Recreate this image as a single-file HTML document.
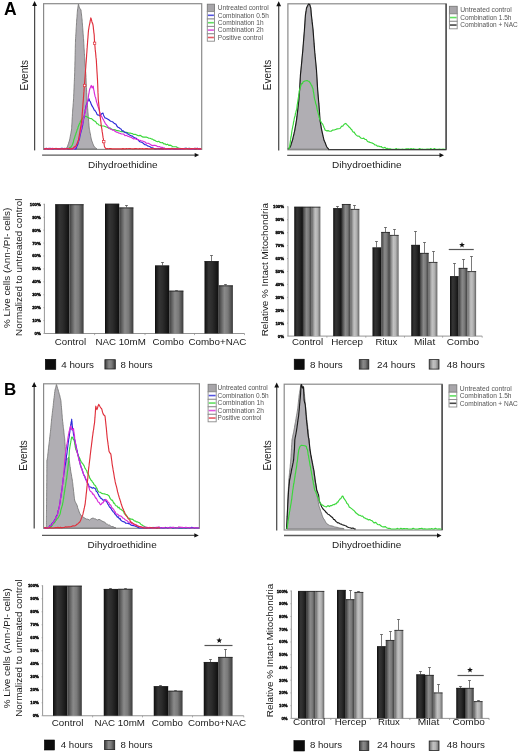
<!DOCTYPE html>
<html><head><meta charset="utf-8"><title>Figure</title>
<style>html,body{margin:0;padding:0;background:#fff;} svg{display:block;filter:blur(0.3px);} text{font-family:"Liberation Sans", sans-serif;}</style>
</head><body>
<svg width="520" height="753" viewBox="0 0 520 753">
<rect width="520" height="753" fill="#fff"/>
<defs>
<linearGradient id="gd" x1="0" x2="1" y1="0" y2="0">
<stop offset="0" stop-color="#0c0c0c"/><stop offset="0.12" stop-color="#1e1e1e"/><stop offset="0.3" stop-color="#353535"/>
<stop offset="0.55" stop-color="#2c2c2c"/><stop offset="0.8" stop-color="#1c1c1c"/><stop offset="1" stop-color="#0e0e0e"/></linearGradient>
<linearGradient id="gm" x1="0" x2="1" y1="0" y2="0">
<stop offset="0" stop-color="#3a3a3a"/><stop offset="0.15" stop-color="#5a5a5a"/><stop offset="0.4" stop-color="#8a8a8a"/>
<stop offset="0.65" stop-color="#7a7a7a"/><stop offset="0.88" stop-color="#505050"/><stop offset="1" stop-color="#3a3a3a"/></linearGradient>
<linearGradient id="gl" x1="0" x2="1" y1="0" y2="0">
<stop offset="0" stop-color="#606060"/><stop offset="0.15" stop-color="#8a8a8a"/><stop offset="0.4" stop-color="#c2c2c2"/>
<stop offset="0.65" stop-color="#b4b4b4"/><stop offset="0.88" stop-color="#858585"/><stop offset="1" stop-color="#5a5a5a"/></linearGradient>
</defs>
<text x="4.00" y="14.70" font-size="17.5" text-anchor="start" font-weight="bold" fill="#000">A</text>
<text x="4.00" y="394.80" font-size="17.0" text-anchor="start" font-weight="bold" fill="#000">B</text>
<line x1="34.60" y1="150.40" x2="34.60" y2="5.50" stroke="#4a4a4a" stroke-width="1.25"/>
<polygon points="32.20,6.00 37.00,6.00 34.60,1.00" fill="#111" stroke="none" stroke-width="1" stroke-linejoin="round" opacity="1"/>
<rect x="43.60" y="3.70" width="158.10" height="145.70" fill="none" stroke="#8a8a8a" stroke-width="1.2" />
<line x1="42.10" y1="155.10" x2="195.20" y2="155.10" stroke="#5a5a5a" stroke-width="1.3"/>
<polygon points="194.70,152.90 194.70,157.30 199.20,155.10" fill="#111" stroke="none" stroke-width="1" stroke-linejoin="round" opacity="1"/>
<text x="27.70" y="75.30" font-size="10" text-anchor="middle" font-weight="normal" fill="#222" transform="rotate(-90 27.70 75.30)" textLength="30.4" lengthAdjust="spacingAndGlyphs">Events</text>
<text x="122.85" y="167.60" font-size="9.6" text-anchor="middle" font-weight="normal" fill="#222" textLength="69.69999999999999" lengthAdjust="spacingAndGlyphs">Dihydroethidine</text>
<polygon points="66.30,148.90 67.00,147.34 67.70,146.00 68.08,144.59 68.46,143.69 68.84,142.14 69.22,141.22 69.60,140.00 69.84,138.67 70.07,137.23 70.31,136.25 70.55,134.72 70.79,133.71 71.03,132.24 71.26,131.00 71.50,130.00 71.58,128.70 71.65,127.70 71.72,126.02 71.80,124.83 71.88,123.83 71.95,122.77 72.03,121.30 72.10,119.94 72.17,119.04 72.25,117.23 72.33,116.47 72.40,114.87 72.48,113.54 72.55,112.27 72.62,111.14 72.70,110.00 72.80,108.94 72.90,107.31 73.00,106.30 73.10,105.08 73.20,103.67 73.30,102.53 73.40,100.99 73.50,100.00 73.56,98.49 73.61,97.32 73.66,96.36 73.72,94.96 73.78,93.64 73.83,92.55 73.88,91.22 73.94,89.88 74.00,88.93 74.05,87.62 74.10,86.10 74.16,85.04 74.22,83.77 74.27,82.73 74.32,81.39 74.38,79.87 74.44,79.04 74.49,77.27 74.54,76.20 74.60,75.00 74.63,73.95 74.66,72.38 74.69,71.37 74.72,69.90 74.76,69.07 74.79,67.92 74.82,66.60 74.85,65.57 74.88,64.03 74.91,63.05 74.94,61.78 74.97,60.57 75.00,59.28 75.03,58.31 75.07,57.16 75.10,55.67 75.13,54.58 75.16,53.01 75.19,52.19 75.22,50.95 75.25,49.95 75.28,48.64 75.31,47.11 75.34,45.97 75.38,44.93 75.41,43.33 75.44,42.39 75.47,41.01 75.50,40.00 75.58,38.52 75.65,37.24 75.72,36.41 75.80,34.78 75.88,33.60 75.95,32.43 76.03,31.47 76.10,29.75 76.17,28.72 76.25,27.53 76.33,26.48 76.40,25.19 76.48,23.97 76.55,22.37 76.62,21.20 76.70,20.00 76.80,18.67 76.90,17.73 77.00,16.52 77.10,14.79 77.20,13.56 77.30,12.34 77.40,11.09 77.50,10.00 77.72,8.54 77.95,7.15 78.18,5.51 78.40,4.20 78.77,5.17 79.13,6.68 79.50,8.00 80.25,8.92 81.00,10.00 81.14,11.29 81.28,12.77 81.41,13.86 81.55,15.01 81.69,16.32 81.82,17.61 81.96,18.48 82.10,20.00 82.19,21.49 82.29,22.67 82.38,23.97 82.47,25.18 82.57,26.19 82.66,27.44 82.76,28.51 82.85,30.08 82.94,30.99 83.04,32.24 83.13,33.58 83.22,34.80 83.32,36.15 83.41,37.23 83.51,38.45 83.60,40.00 83.67,41.04 83.75,42.26 83.82,43.67 83.90,44.72 83.97,46.47 84.05,47.57 84.12,48.54 84.20,49.85 84.27,51.16 84.35,52.42 84.42,53.52 84.50,55.21 84.58,56.55 84.65,57.48 84.72,58.74 84.80,60.00 84.89,61.00 84.98,62.26 85.08,63.66 85.17,64.86 85.26,66.45 85.35,67.30 85.44,68.46 85.53,70.27 85.62,71.27 85.72,72.29 85.81,73.78 85.90,75.00 85.96,75.97 86.01,77.52 86.06,79.04 86.12,80.22 86.18,81.37 86.23,82.36 86.28,83.67 86.34,84.80 86.40,86.41 86.45,87.52 86.50,88.92 86.56,89.90 86.62,91.08 86.67,92.69 86.72,94.04 86.78,95.21 86.84,96.43 86.89,97.69 86.94,98.89 87.00,100.00 87.10,101.09 87.20,102.51 87.30,103.66 87.40,104.72 87.50,105.97 87.60,107.37 87.70,108.61 87.80,110.12 87.90,111.52 88.00,112.47 88.10,114.01 88.20,115.00 88.30,116.59 88.40,117.87 88.50,118.82 88.60,120.03 88.70,121.34 88.80,122.62 88.90,123.92 89.00,125.47 89.10,126.94 89.20,128.00 89.43,129.40 89.66,130.39 89.89,131.69 90.12,132.98 90.35,133.75 90.58,135.30 90.81,136.65 91.04,137.77 91.27,138.95 91.50,140.00 91.96,141.19 92.42,142.21 92.88,143.77 93.34,144.70 93.80,146.00 94.83,147.15 95.87,148.22 96.90,148.90" fill="#b0aeb3" stroke="#707070" stroke-width="0.8" stroke-linejoin="round" opacity="1"/>
<polyline points="44.00,148.90 45.20,148.78 46.40,148.78 47.60,148.90 48.80,148.90 50.00,148.50 51.20,148.45 52.40,148.48 53.60,148.90 54.80,148.90 56.00,148.48 57.20,148.90 58.40,148.90 59.60,148.90 60.80,148.72 62.00,148.90 63.20,148.46 64.40,148.32 65.60,148.90 66.80,148.90 68.00,148.90 69.00,148.23 70.00,147.50 71.15,146.77 72.30,145.00 72.67,143.75 73.03,143.11 73.40,141.89 73.77,139.99 74.13,138.87 74.50,138.00 74.90,136.55 75.30,135.29 75.70,134.50 76.10,132.91 76.50,132.00 76.90,130.70 77.30,129.16 77.70,128.89 78.10,127.02 78.50,126.00 79.00,124.70 79.50,123.60 80.00,122.74 80.50,121.00 81.33,119.74 82.17,119.17 83.00,117.50 84.40,116.85 85.80,116.20 87.20,117.00 88.60,117.76 90.00,118.50 91.55,118.67 93.10,120.00 94.05,120.76 95.00,121.29 95.95,121.90 96.90,123.69 97.85,123.77 98.80,125.00 100.04,125.27 101.28,125.87 102.52,125.97 103.76,125.99 105.00,126.50 106.28,127.02 107.57,127.57 108.85,128.34 110.13,128.03 111.42,129.07 112.70,129.50 113.93,129.45 115.16,129.73 116.39,130.58 117.62,130.51 118.85,130.82 120.08,131.31 121.31,131.74 122.54,131.43 123.77,131.89 125.00,132.00 126.25,132.28 127.50,132.56 128.75,133.06 130.00,133.04 131.25,133.41 132.50,133.62 133.75,134.45 135.00,134.20 136.25,134.80 137.50,135.38 138.75,135.82 140.00,135.36 141.25,136.08 142.50,136.91 143.75,137.15 145.00,137.10 146.25,137.08 147.50,137.47 148.75,138.27 150.00,138.24 151.25,138.85 152.50,139.06 153.75,140.19 155.00,140.40 156.25,141.17 157.50,141.73 158.75,141.26 160.00,142.36 161.25,142.72 162.50,142.52 163.75,143.83 165.00,143.80 166.25,144.72 167.50,144.19 168.75,145.43 170.00,145.13 171.25,145.60 172.50,146.56 173.75,146.74 175.00,146.70 176.20,146.73 177.40,147.50 178.60,148.04 179.80,148.27 181.00,148.90 182.25,148.53 183.50,148.68 184.75,148.90 186.00,148.32 187.25,148.90 188.50,148.83 189.75,148.32 191.00,148.70 192.25,148.90 193.50,148.90 194.75,148.38 196.00,148.90 197.25,148.90 198.50,148.90 199.75,148.43 201.00,148.90" fill="none" stroke="#3ad83a" stroke-width="1.15" stroke-linejoin="round" opacity="1"/>
<polyline points="44.00,148.90 45.23,148.57 46.46,148.26 47.69,148.90 48.92,148.58 50.15,148.38 51.38,148.79 52.62,148.90 53.85,148.90 55.08,148.56 56.31,148.41 57.54,148.90 58.77,148.90 60.00,148.90 61.23,148.33 62.46,148.28 63.69,148.90 64.92,148.80 66.15,148.30 67.38,148.90 68.62,148.90 69.85,148.90 71.08,148.32 72.31,148.90 73.54,148.29 74.77,148.90 76.00,148.90 76.46,147.56 76.91,146.13 77.37,145.16 77.83,144.41 78.29,142.22 78.74,140.75 79.20,140.00 79.49,138.79 79.78,137.13 80.08,135.70 80.37,134.53 80.66,133.12 80.95,132.08 81.24,130.99 81.53,129.73 81.83,129.11 82.12,127.21 82.41,126.25 82.70,125.00 82.91,123.30 83.12,122.29 83.34,120.58 83.55,119.65 83.76,118.07 83.98,117.83 84.19,116.32 84.40,115.00 84.62,113.32 84.85,112.46 85.08,111.86 85.30,109.45 85.53,109.20 85.75,107.41 85.98,106.24 86.20,105.00 86.76,104.21 87.32,102.33 87.88,101.23 88.44,100.22 89.00,98.70 89.60,100.81 90.20,101.35 90.80,103.00 91.37,104.63 91.93,105.62 92.50,106.69 93.07,107.53 93.63,108.62 94.20,110.00 94.90,110.38 95.60,111.48 96.30,112.40 97.00,114.34 97.70,115.00 98.85,115.16 100.00,116.00 100.97,114.53 101.93,113.42 102.90,113.00 103.43,114.70 103.95,115.97 104.47,116.91 105.00,117.90 106.25,118.32 107.50,118.99 108.75,119.79 110.00,120.80 111.25,121.47 112.50,121.77 113.75,122.90 115.00,123.70 116.00,124.33 117.00,126.27 118.00,127.24 119.00,127.61 120.00,128.50 121.00,128.98 122.00,130.83 123.00,130.75 124.00,131.66 125.00,132.70 126.25,132.63 127.50,133.78 128.75,134.54 130.00,135.20 131.25,135.90 132.50,136.18 133.75,137.31 135.00,138.00 136.00,138.09 137.00,139.23 138.00,139.77 139.00,140.98 140.00,141.90 141.25,141.98 142.50,142.68 143.75,143.80 145.00,144.80 146.25,144.90 147.50,145.87 148.75,146.27 150.00,146.70 151.20,147.49 152.40,147.80 153.60,148.32 154.80,148.90 156.00,148.90 157.22,148.75 158.43,148.66 159.65,148.90 160.86,148.41 162.08,148.90 163.30,148.90 164.51,148.26 165.73,148.90 166.95,148.90 168.16,148.90 169.38,148.90 170.59,148.90 171.81,148.40 173.03,148.90 174.24,148.90 175.46,148.90 176.68,148.90 177.89,148.90 179.11,148.90 180.32,148.90 181.54,148.90 182.76,148.90 183.97,148.52 185.19,148.24 186.41,148.39 187.62,148.70 188.84,148.35 190.05,148.90 191.27,148.90 192.49,148.90 193.70,148.90 194.92,148.90 196.14,148.89 197.35,148.20 198.57,148.90 199.78,148.90 201.00,148.90" fill="none" stroke="#2a2ad8" stroke-width="1.15" stroke-linejoin="round" opacity="1"/>
<polyline points="44.00,148.90 45.20,148.90 46.40,148.90 47.60,148.90 48.80,148.38 50.00,148.90 51.20,148.60 52.40,148.39 53.60,148.62 54.80,148.90 56.00,148.55 57.20,148.90 58.40,148.90 59.60,148.89 60.80,148.76 62.00,148.87 63.20,148.90 64.40,148.90 65.60,148.90 66.80,148.90 68.00,148.39 69.20,148.48 70.40,148.60 71.60,148.90 72.80,148.67 74.00,148.90 74.90,148.03 75.80,147.00 76.28,145.25 76.77,144.14 77.25,143.22 77.73,142.54 78.22,141.40 78.70,140.00 78.98,138.96 79.27,137.25 79.55,136.27 79.83,134.96 80.12,133.71 80.40,132.04 80.68,131.72 80.97,129.64 81.25,129.32 81.53,128.02 81.82,125.67 82.10,125.00 82.39,123.70 82.68,122.88 82.97,121.81 83.27,119.94 83.56,118.47 83.85,117.15 84.14,116.78 84.43,114.65 84.72,113.85 85.02,112.07 85.31,111.28 85.60,110.00 85.89,109.29 86.17,107.06 86.46,106.63 86.75,105.01 87.04,104.21 87.33,102.74 87.61,100.93 87.90,100.00 88.10,99.23 88.30,97.48 88.50,95.68 88.70,94.40 88.90,93.74 89.10,92.44 89.30,91.01 89.50,90.00 89.95,88.42 90.40,87.51 90.85,86.33 91.30,85.40 91.75,87.11 92.20,88.00 93.10,86.00 93.34,86.69 93.59,88.87 93.83,90.26 94.07,90.69 94.31,92.94 94.56,93.97 94.80,95.00 95.14,96.73 95.47,97.25 95.81,98.60 96.15,99.87 96.49,101.85 96.83,102.61 97.16,103.58 97.50,105.00 97.89,106.16 98.28,107.23 98.66,108.21 99.05,109.52 99.44,111.65 99.82,112.24 100.21,114.27 100.60,115.00 101.27,115.87 101.93,117.05 102.60,118.51 103.27,119.29 103.93,120.68 104.60,122.00 105.37,123.55 106.13,124.46 106.90,125.37 107.67,126.16 108.43,127.50 109.20,128.00 110.36,129.19 111.52,129.38 112.68,130.24 113.84,130.10 115.00,131.30 116.25,132.08 117.50,132.24 118.75,133.10 120.00,133.30 121.25,133.95 122.50,133.99 123.75,134.18 125.00,135.71 126.25,135.23 127.50,136.12 128.75,136.44 130.00,137.10 131.25,137.27 132.50,138.21 133.75,138.91 135.00,138.46 136.25,139.35 137.50,139.34 138.75,140.06 140.00,140.40 141.25,140.75 142.50,140.95 143.75,141.42 145.00,141.95 146.25,143.26 147.50,143.25 148.75,143.39 150.00,144.20 151.33,145.10 152.67,145.63 154.00,145.39 155.33,145.43 156.67,145.91 158.00,146.70 159.33,146.58 160.67,147.24 162.00,147.31 163.33,147.85 164.67,148.24 166.00,148.90 167.21,148.90 168.41,148.90 169.62,148.90 170.83,148.80 172.03,148.80 173.24,148.90 174.45,148.75 175.66,148.71 176.86,148.37 178.07,148.63 179.28,148.90 180.48,148.45 181.69,148.90 182.90,148.90 184.10,148.90 185.31,148.56 186.52,148.63 187.72,148.60 188.93,148.78 190.14,148.84 191.34,148.90 192.55,148.90 193.76,148.90 194.97,148.33 196.17,148.34 197.38,148.90 198.59,148.90 199.79,148.87 201.00,148.90" fill="none" stroke="#d82ad8" stroke-width="1.15" stroke-linejoin="round" opacity="1"/>
<polyline points="44.00,148.90 45.22,148.90 46.43,148.50 47.65,148.81 48.87,148.90 50.09,148.90 51.30,148.90 52.52,148.90 53.74,148.70 54.96,148.59 56.17,148.62 57.39,148.90 58.61,148.90 59.83,148.90 61.04,148.90 62.26,148.90 63.48,148.90 64.70,148.87 65.91,148.90 67.13,148.53 68.35,148.90 69.57,148.69 70.78,148.90 72.00,148.90 73.00,148.29 74.00,147.29 75.00,146.43 76.00,146.00 76.50,144.60 77.00,143.71 77.50,142.56 78.00,140.89 78.50,140.00 78.71,138.41 78.92,137.52 79.14,136.32 79.35,134.91 79.56,133.53 79.78,132.58 79.99,130.86 80.20,130.00 80.40,128.59 80.60,127.47 80.80,126.62 81.00,125.12 81.20,124.06 81.40,122.48 81.60,121.04 81.80,120.00 81.89,118.55 81.99,117.87 82.08,116.41 82.17,114.85 82.27,113.37 82.36,112.50 82.46,111.39 82.55,109.94 82.64,108.56 82.74,107.63 82.83,106.59 82.92,104.78 83.02,103.38 83.11,102.37 83.21,101.19 83.30,100.00 83.39,98.90 83.48,97.26 83.58,96.49 83.67,95.19 83.76,93.75 83.85,92.26 83.94,91.63 84.03,89.85 84.12,89.01 84.22,87.28 84.31,86.03 84.40,85.00 84.50,83.96 84.60,82.34 84.70,81.61 84.80,80.00 84.90,78.50 85.00,77.28 85.10,76.18 85.20,75.00 85.29,73.88 85.38,72.86 85.47,70.97 85.56,69.91 85.65,68.52 85.74,67.88 85.83,65.96 85.92,64.64 86.01,63.40 86.10,62.41 86.19,61.57 86.28,60.31 86.37,58.94 86.46,57.90 86.55,56.60 86.64,54.86 86.73,53.50 86.82,52.85 86.91,51.45 87.00,50.00 87.09,48.38 87.19,47.63 87.28,46.15 87.38,44.90 87.47,43.62 87.56,42.24 87.66,40.85 87.75,39.82 87.84,38.63 87.94,37.86 88.03,35.95 88.12,35.37 88.22,33.52 88.31,32.39 88.41,31.51 88.50,30.00 88.73,29.05 88.96,27.53 89.19,26.01 89.42,25.14 89.65,23.85 89.88,23.08 90.11,21.28 90.34,20.21 90.57,19.43 90.80,17.90 91.17,18.71 91.53,20.20 91.90,21.70 92.27,22.85 92.63,23.45 93.00,25.00 93.15,25.88 93.30,27.15 93.45,29.09 93.60,29.81 93.75,31.45 93.90,32.82 94.05,33.62 94.20,35.00 94.27,36.15 94.33,38.03 94.40,39.09 94.47,40.14 94.53,41.84 94.60,43.00 94.72,44.07 94.84,45.25 94.96,46.25 95.09,48.06 95.21,49.40 95.33,50.39 95.45,51.85 95.57,52.33 95.69,53.72 95.81,55.12 95.94,56.72 96.06,57.93 96.18,58.69 96.30,60.00 96.38,61.05 96.45,62.44 96.52,63.74 96.60,65.34 96.67,66.00 96.75,67.74 96.83,68.94 96.90,70.26 96.97,71.47 97.05,72.59 97.12,73.61 97.20,74.86 97.28,76.14 97.35,77.73 97.42,78.41 97.50,80.00 97.55,81.01 97.60,82.70 97.65,83.55 97.70,84.65 97.75,85.88 97.80,87.54 97.85,88.61 97.90,90.38 97.95,91.56 98.00,92.89 98.05,93.56 98.10,94.67 98.15,95.93 98.20,97.50 98.25,98.92 98.30,100.00 98.44,101.21 98.58,102.29 98.71,103.68 98.85,105.10 98.99,106.39 99.12,107.70 99.26,109.03 99.40,110.00 99.55,111.38 99.70,112.20 99.85,114.02 100.00,114.84 100.15,116.30 100.30,117.40 100.45,118.94 100.60,119.76 100.75,121.05 100.90,122.30 101.05,123.47 101.20,125.00 101.39,126.56 101.58,127.56 101.78,128.61 101.97,129.92 102.16,131.64 102.35,132.51 102.54,133.54 102.73,135.25 102.92,136.37 103.12,137.89 103.31,138.43 103.50,140.00 103.72,141.38 103.94,143.06 104.16,144.47 104.38,145.93 104.60,147.00 106.00,148.90 107.21,148.53 108.42,148.73 109.63,148.60 110.84,148.65 112.04,148.90 113.25,148.90 114.46,148.90 115.67,148.80 116.88,148.90 118.09,148.86 119.30,148.71 120.51,148.90 121.72,148.90 122.92,148.58 124.13,148.90 125.34,148.90 126.55,148.67 127.76,148.79 128.97,148.61 130.18,148.66 131.39,148.70 132.59,148.90 133.80,148.90 135.01,148.66 136.22,148.51 137.43,148.76 138.64,148.90 139.85,148.65 141.06,148.75 142.27,148.66 143.47,148.90 144.68,148.90 145.89,148.55 147.10,148.58 148.31,148.82 149.52,148.90 150.73,148.90 151.94,148.57 153.15,148.63 154.35,148.90 155.56,148.83 156.77,148.73 157.98,148.75 159.19,148.90 160.40,148.75 161.61,148.90 162.82,148.79 164.03,148.83 165.23,148.90 166.44,148.90 167.65,148.79 168.86,148.66 170.07,148.90 171.28,148.66 172.49,148.50 173.70,148.90 174.91,148.84 176.11,148.90 177.32,148.82 178.53,148.90 179.74,148.87 180.95,148.63 182.16,148.51 183.37,148.90 184.58,148.90 185.78,148.90 186.99,148.57 188.20,148.90 189.41,148.80 190.62,148.90 191.83,148.62 193.04,148.73 194.25,148.90 195.46,148.90 196.66,148.59 197.87,148.89 199.08,148.90 200.29,148.90 201.50,148.90" fill="none" stroke="#e0303c" stroke-width="1.15" stroke-linejoin="round" opacity="1"/>
<rect x="93.40" y="42.10" width="2.40" height="2.40" fill="#fff" stroke="#e0303c" stroke-width="0.7" />
<rect x="83.40" y="84.30" width="2.40" height="2.40" fill="#fff" stroke="#e0303c" stroke-width="0.7" />
<rect x="102.60" y="140.40" width="2.40" height="2.40" fill="#fff" stroke="#e0303c" stroke-width="0.7" />
<rect x="207.30" y="4.20" width="7.20" height="7.40" fill="#a8a6aa" stroke="#7a7a7a" stroke-width="0.9" />
<text x="217.80" y="10.28" font-size="6.6" text-anchor="start" font-weight="normal" fill="#555555" textLength="50.9" lengthAdjust="spacingAndGlyphs">Untreated control</text>
<rect x="207.30" y="11.60" width="7.20" height="7.40" fill="#fff" stroke="#8a8a8a" stroke-width="0.9" />
<line x1="207.90" y1="15.30" x2="213.90" y2="15.30" stroke="#2a2ad8" stroke-width="1.6" opacity="0.8"/>
<text x="217.80" y="17.68" font-size="6.6" text-anchor="start" font-weight="normal" fill="#555555" textLength="51.0" lengthAdjust="spacingAndGlyphs">Combination 0.5h</text>
<rect x="207.30" y="19.00" width="7.20" height="7.40" fill="#fff" stroke="#8a8a8a" stroke-width="0.9" />
<line x1="207.90" y1="22.70" x2="213.90" y2="22.70" stroke="#3ad83a" stroke-width="1.6" opacity="0.8"/>
<text x="217.80" y="25.08" font-size="6.6" text-anchor="start" font-weight="normal" fill="#555555" textLength="45.8" lengthAdjust="spacingAndGlyphs">Combination 1h</text>
<rect x="207.30" y="26.40" width="7.20" height="7.40" fill="#fff" stroke="#8a8a8a" stroke-width="0.9" />
<line x1="207.90" y1="30.10" x2="213.90" y2="30.10" stroke="#d82ad8" stroke-width="1.6" opacity="0.8"/>
<text x="217.80" y="32.48" font-size="6.6" text-anchor="start" font-weight="normal" fill="#555555" textLength="45.8" lengthAdjust="spacingAndGlyphs">Combination 2h</text>
<rect x="207.30" y="33.80" width="7.20" height="7.40" fill="#fff" stroke="#8a8a8a" stroke-width="0.9" />
<line x1="207.90" y1="37.50" x2="213.90" y2="37.50" stroke="#e0303c" stroke-width="1.6" opacity="0.8"/>
<text x="217.80" y="39.88" font-size="6.6" text-anchor="start" font-weight="normal" fill="#555555" textLength="45.2" lengthAdjust="spacingAndGlyphs">Positive control</text>
<line x1="278.70" y1="150.40" x2="278.70" y2="5.70" stroke="#4a4a4a" stroke-width="1.25"/>
<polygon points="276.30,6.20 281.10,6.20 278.70,1.20" fill="#111" stroke="none" stroke-width="1" stroke-linejoin="round" opacity="1"/>
<rect x="287.90" y="3.80" width="158.20" height="146.00" fill="none" stroke="#8a8a8a" stroke-width="1.2" />
<line x1="446.10" y1="3.80" x2="446.10" y2="149.80" stroke="#333" stroke-width="1.2"/>
<line x1="287.20" y1="155.30" x2="440.00" y2="155.30" stroke="#5a5a5a" stroke-width="1.3"/>
<polygon points="439.50,153.10 439.50,157.50 444.00,155.30" fill="#111" stroke="none" stroke-width="1" stroke-linejoin="round" opacity="1"/>
<text x="271.30" y="75.00" font-size="10" text-anchor="middle" font-weight="normal" fill="#222" transform="rotate(-90 271.30 75.00)" textLength="30.4" lengthAdjust="spacingAndGlyphs">Events</text>
<text x="366.90" y="167.60" font-size="9.6" text-anchor="middle" font-weight="normal" fill="#222" textLength="69.59999999999997" lengthAdjust="spacingAndGlyphs">Dihydroethidine</text>
<polygon points="288.00,149.20 289.20,147.95 290.40,147.00 290.78,145.65 291.17,144.89 291.55,143.74 291.93,142.32 292.32,140.94 292.70,140.00 292.99,138.96 293.27,137.44 293.56,136.45 293.85,135.06 294.14,133.91 294.43,132.33 294.71,131.39 295.00,130.00 295.21,128.61 295.43,127.45 295.64,126.42 295.85,125.16 296.06,123.59 296.27,122.36 296.49,121.20 296.70,120.00 296.85,118.76 297.00,117.44 297.15,116.06 297.30,114.87 297.45,113.86 297.60,112.70 297.75,111.02 297.90,110.00 298.04,108.78 298.17,107.63 298.31,106.02 298.45,105.17 298.59,103.56 298.73,102.55 298.86,101.28 299.00,100.00 299.10,98.81 299.20,97.40 299.30,96.21 299.40,95.04 299.50,93.71 299.60,92.58 299.70,91.22 299.80,90.00 299.87,88.72 299.93,87.26 300.00,86.31 300.07,84.99 300.13,83.62 300.20,82.63 300.27,81.39 300.33,79.98 300.40,78.59 300.47,77.49 300.53,76.05 300.60,75.00 300.74,73.41 300.88,72.17 301.02,70.60 301.16,69.37 301.30,68.00 301.41,66.81 301.53,65.37 301.64,64.47 301.75,62.99 301.87,62.12 301.98,60.94 302.09,59.61 302.21,58.18 302.32,57.20 302.43,55.94 302.55,55.03 302.66,53.42 302.77,52.58 302.89,51.45 303.00,50.00 303.10,48.87 303.20,47.66 303.30,46.10 303.40,45.24 303.50,43.75 303.60,42.73 303.70,41.46 303.80,39.83 303.90,38.89 304.00,37.72 304.10,36.03 304.20,34.93 304.30,33.88 304.40,32.33 304.50,31.45 304.60,30.00 304.68,28.64 304.77,27.66 304.85,26.07 304.93,25.00 305.02,23.96 305.10,22.35 305.18,21.13 305.27,20.00 305.35,18.66 305.43,17.27 305.52,16.09 305.60,15.00 305.84,13.43 306.08,12.42 306.32,10.89 306.56,9.60 306.80,8.00 307.70,6.60 308.60,5.68 309.50,4.30 309.87,5.34 310.23,6.78 310.60,8.00 310.72,9.47 310.84,10.73 310.96,12.39 311.08,13.63 311.20,15.00 311.34,16.29 311.48,17.69 311.62,18.55 311.77,20.25 311.91,21.31 312.05,22.45 312.19,23.90 312.33,24.88 312.47,26.50 312.62,27.54 312.76,28.68 312.90,30.00 312.99,31.38 313.09,32.47 313.18,33.59 313.27,35.12 313.37,36.02 313.46,37.66 313.56,38.63 313.65,40.07 313.74,41.49 313.84,42.54 313.93,43.83 314.02,44.91 314.12,46.00 314.21,47.27 314.31,48.57 314.40,50.00 314.52,51.31 314.64,52.47 314.76,53.76 314.88,55.20 314.99,56.07 315.11,57.36 315.23,58.83 315.35,59.76 315.47,61.00 315.59,62.43 315.71,63.55 315.82,64.93 315.94,66.11 316.06,67.54 316.18,68.79 316.30,70.00 316.38,71.10 316.45,72.56 316.53,73.74 316.60,74.82 316.68,76.47 316.75,77.37 316.82,78.57 316.90,79.80 316.98,81.32 317.05,82.69 317.12,83.89 317.20,84.95 317.27,86.13 317.35,87.26 317.43,88.82 317.50,90.00 317.61,91.28 317.71,92.43 317.82,93.82 317.93,94.97 318.03,96.47 318.14,97.62 318.24,98.62 318.35,100.20 318.46,101.02 318.56,102.52 318.67,103.70 318.77,104.87 318.88,106.03 318.99,107.64 319.09,108.51 319.20,110.00 319.27,111.28 319.35,112.72 319.43,113.57 319.50,114.85 319.57,116.30 319.65,117.50 319.73,118.82 319.80,120.00 320.01,121.41 320.23,122.34 320.44,123.65 320.65,124.90 320.86,126.02 321.07,127.69 321.29,128.89 321.50,130.00 321.79,131.36 322.07,132.25 322.36,133.92 322.65,135.12 322.94,136.23 323.23,137.62 323.51,138.73 323.80,140.00 324.28,141.03 324.77,142.14 325.25,143.37 325.73,144.44 326.22,145.75 326.70,147.00 327.60,148.22 328.50,149.20" fill="#b0aeb3" stroke="#707070" stroke-width="0.8" stroke-linejoin="round" opacity="1"/>
<polyline points="287.80,149.20 289.00,148.18 290.20,147.00 290.58,145.97 290.97,144.75 291.35,143.41 291.73,142.35 292.12,141.14 292.50,140.00 292.79,138.87 293.07,137.51 293.36,136.16 293.65,135.06 293.94,133.94 294.23,132.39 294.51,131.40 294.80,130.00 295.01,128.56 295.23,127.40 295.44,126.14 295.65,125.10 295.86,123.93 296.07,122.60 296.29,121.18 296.50,120.00 296.65,118.90 296.80,117.43 296.95,116.15 297.10,115.16 297.25,113.80 297.40,112.58 297.55,111.32 297.70,110.00 297.84,108.94 297.98,107.49 298.11,106.39 298.25,105.08 298.39,103.89 298.52,102.47 298.66,101.34 298.80,100.00 298.90,98.78 299.00,97.42 299.10,96.13 299.20,95.05 299.30,93.58 299.40,92.66 299.50,91.11 299.60,90.00 299.67,88.56 299.73,87.34 299.80,86.42 299.87,84.94 299.93,83.61 300.00,82.31 300.07,81.07 300.13,80.08 300.20,78.80 300.27,77.58 300.33,76.34 300.40,75.00 300.54,73.43 300.68,72.24 300.82,70.75 300.96,69.53 301.10,68.00 301.21,66.93 301.33,65.76 301.44,64.23 301.55,63.35 301.67,62.17 301.78,60.98 301.89,59.44 302.01,58.28 302.12,57.04 302.23,55.81 302.35,54.94 302.46,53.72 302.57,52.45 302.69,51.33 302.80,50.00 302.90,48.80 303.00,47.41 303.10,46.09 303.20,44.84 303.30,43.85 303.40,42.38 303.50,41.18 303.60,39.97 303.70,38.56 303.80,37.40 303.90,36.16 304.00,35.09 304.10,33.70 304.20,32.43 304.30,31.44 304.40,30.00 304.48,28.75 304.57,27.64 304.65,26.30 304.73,24.81 304.82,23.72 304.90,22.47 304.98,21.36 305.07,19.94 305.15,18.83 305.23,17.52 305.32,16.14 305.40,15.00 305.62,13.74 305.84,12.04 306.06,10.93 306.28,9.27 306.50,8.00 307.17,6.47 307.83,5.21 308.50,4.00 309.80,4.60 310.30,6.40 310.80,8.00 310.92,9.59 311.04,10.60 311.16,12.20 311.28,13.60 311.40,15.00 311.54,16.37 311.68,17.37 311.82,18.75 311.97,19.94 312.11,21.38 312.25,22.40 312.39,23.93 312.53,24.91 312.68,26.14 312.82,27.58 312.96,28.75 313.10,30.00 313.19,31.09 313.29,32.55 313.38,33.58 313.48,35.12 313.57,36.33 313.66,37.61 313.76,38.80 313.85,39.94 313.94,41.21 314.04,42.46 314.13,43.91 314.23,44.83 314.32,46.41 314.41,47.31 314.51,48.63 314.60,50.00 314.72,51.16 314.84,52.66 314.96,53.75 315.08,54.95 315.19,56.40 315.31,57.39 315.43,58.73 315.55,60.01 315.67,61.35 315.79,62.60 315.91,63.81 316.02,64.94 316.14,66.18 316.26,67.36 316.38,68.89 316.50,70.00 316.57,71.31 316.65,72.60 316.73,73.62 316.80,74.98 316.88,76.36 316.95,77.53 317.02,78.60 317.10,79.98 317.18,81.40 317.25,82.40 317.32,83.63 317.40,84.92 317.47,86.33 317.55,87.64 317.62,88.61 317.70,90.00 317.81,91.11 317.91,92.40 318.02,93.68 318.12,95.01 318.23,96.11 318.34,97.43 318.44,98.63 318.55,100.19 318.66,101.34 318.76,102.34 318.87,103.93 318.97,104.84 319.08,106.20 319.19,107.69 319.29,108.87 319.40,110.00 319.47,111.34 319.55,112.47 319.62,113.63 319.70,115.06 319.77,116.09 319.85,117.38 319.93,118.71 320.00,120.00 320.21,121.06 320.43,122.46 320.64,123.87 320.85,125.08 321.06,126.25 321.27,127.55 321.49,128.74 321.70,130.00 321.99,131.11 322.27,132.54 322.56,133.71 322.85,135.10 323.14,136.41 323.43,137.47 323.71,138.78 324.00,140.00 324.48,141.27 324.97,142.30 325.45,143.39 325.93,144.76 326.42,145.99 326.90,147.00 327.80,148.21 328.70,149.20" fill="none" stroke="#1a1a1a" stroke-width="1.1" stroke-linejoin="round" opacity="1"/>
<polyline points="288.50,149.20 289.00,148.38 289.50,147.00 289.69,146.28 289.87,144.82 290.06,143.56 290.24,142.08 290.43,140.67 290.61,139.89 290.80,137.94 290.99,137.17 291.17,136.47 291.36,135.16 291.54,133.82 291.73,132.08 291.91,131.11 292.10,130.00 292.33,128.74 292.56,127.77 292.79,126.27 293.02,125.45 293.25,124.60 293.48,122.36 293.71,121.82 293.94,120.79 294.17,119.04 294.40,118.00 294.75,116.65 295.10,116.00 295.45,113.35 295.80,112.73 296.15,110.86 296.50,110.00 296.69,109.14 296.88,108.12 297.06,106.28 297.25,104.44 297.44,103.85 297.62,102.56 297.81,101.55 298.00,100.00 298.19,98.77 298.38,97.69 298.56,96.71 298.75,95.03 298.94,93.62 299.12,93.13 299.31,90.84 299.50,90.00 299.88,89.01 300.25,87.35 300.62,86.62 301.00,85.00 301.67,83.47 302.33,83.68 303.00,82.00 304.80,81.00 307.00,80.50 308.00,81.03 309.00,81.35 310.00,82.70 310.58,83.54 311.16,84.88 311.74,85.50 312.32,87.23 312.90,88.50 313.11,89.68 313.32,91.35 313.54,92.16 313.75,93.32 313.96,94.55 314.18,96.56 314.39,98.13 314.60,98.80 314.93,100.15 315.26,101.04 315.59,103.16 315.91,103.91 316.24,104.97 316.57,106.17 316.90,108.00 317.22,109.68 317.54,111.01 317.87,112.05 318.19,113.11 318.51,114.53 318.83,115.35 319.16,117.67 319.48,118.11 319.80,119.60 320.52,120.94 321.25,122.35 321.98,123.49 322.70,124.20 323.16,125.32 323.62,126.23 324.08,127.75 324.54,128.32 325.00,130.00 326.53,130.87 328.07,130.60 329.60,131.20 331.13,131.29 332.67,130.07 334.20,130.00 335.65,129.45 337.10,128.90 338.55,128.77 340.00,128.50 340.92,127.21 341.83,126.10 342.75,126.26 343.67,124.79 344.58,123.89 345.50,123.40 346.40,123.98 347.30,125.09 348.20,125.88 349.10,127.03 350.00,127.70 350.83,128.92 351.67,129.51 352.50,131.30 353.33,132.20 354.17,132.08 355.00,133.70 356.00,134.86 357.00,135.67 358.00,136.20 359.00,136.00 360.00,137.20 361.25,138.21 362.50,138.49 363.75,138.17 365.00,139.40 366.25,139.47 367.50,141.53 368.75,141.87 370.00,142.40 371.25,142.70 372.50,143.14 373.75,143.85 375.00,145.00 376.25,145.05 377.50,146.24 378.75,146.06 380.00,146.70 381.25,146.48 382.50,147.79 383.75,147.90 385.00,147.29 386.25,148.56 387.50,148.43 388.75,148.93 390.00,148.80 391.25,149.09 392.50,149.20 393.75,149.20 395.00,149.20 396.25,148.63 397.50,149.20 398.75,149.19 400.00,149.20 401.23,149.20 402.46,149.11 403.69,149.20 404.92,149.20 406.15,148.87 407.38,148.83 408.61,148.70 409.84,149.19 411.07,148.58 412.30,149.15 413.53,148.70 414.76,149.19 415.99,149.20 417.22,149.20 418.45,149.20 419.68,148.51 420.91,149.20 422.14,149.16 423.36,149.20 424.59,149.20 425.82,149.20 427.05,149.02 428.28,149.09 429.51,149.20 430.74,148.61 431.97,149.20 433.20,149.20 434.43,148.54 435.66,149.20 436.89,149.20 438.12,149.20 439.35,148.96 440.58,149.20 441.81,149.20 443.04,149.18 444.27,149.20 445.50,149.20" fill="none" stroke="#3ad83a" stroke-width="1.15" stroke-linejoin="round" opacity="1"/>
<line x1="328.00" y1="149.60" x2="446.00" y2="149.60" stroke="#333" stroke-width="1.0"/>
<rect x="449.40" y="6.30" width="7.80" height="7.50" fill="#a8a6aa" stroke="#7a7a7a" stroke-width="0.9" />
<text x="460.20" y="12.44" font-size="6.65" text-anchor="start" font-weight="normal" fill="#555555" textLength="51.5" lengthAdjust="spacingAndGlyphs">Untreated control</text>
<rect x="449.40" y="13.80" width="7.80" height="7.50" fill="#fff" stroke="#8a8a8a" stroke-width="0.9" />
<line x1="450.00" y1="17.55" x2="456.60" y2="17.55" stroke="#3ad83a" stroke-width="1.6" opacity="0.8"/>
<text x="460.20" y="19.94" font-size="6.65" text-anchor="start" font-weight="normal" fill="#555555" textLength="51.3" lengthAdjust="spacingAndGlyphs">Combination 1.5h</text>
<rect x="449.40" y="21.30" width="7.80" height="7.50" fill="#fff" stroke="#8a8a8a" stroke-width="0.9" />
<line x1="450.00" y1="25.05" x2="456.60" y2="25.05" stroke="#1a1a1a" stroke-width="1.6" opacity="0.8"/>
<text x="460.20" y="27.44" font-size="6.65" text-anchor="start" font-weight="normal" fill="#555555" textLength="57.6" lengthAdjust="spacingAndGlyphs">Combination + NAC</text>
<line x1="34.20" y1="528.50" x2="34.20" y2="386.50" stroke="#4a4a4a" stroke-width="1.25"/>
<polygon points="31.80,387.00 36.60,387.00 34.20,382.00" fill="#111" stroke="none" stroke-width="1" stroke-linejoin="round" opacity="1"/>
<rect x="43.60" y="383.80" width="155.80" height="144.50" fill="none" stroke="#8a8a8a" stroke-width="1.2" />
<line x1="42.00" y1="535.40" x2="194.80" y2="535.40" stroke="#5a5a5a" stroke-width="1.3"/>
<polygon points="194.30,533.20 194.30,537.60 198.80,535.40" fill="#111" stroke="none" stroke-width="1" stroke-linejoin="round" opacity="1"/>
<text x="26.90" y="455.50" font-size="10" text-anchor="middle" font-weight="normal" fill="#222" transform="rotate(-90 26.90 455.50)" textLength="30.4" lengthAdjust="spacingAndGlyphs">Events</text>
<text x="122.10" y="547.80" font-size="9.6" text-anchor="middle" font-weight="normal" fill="#222" textLength="69.19999999999999" lengthAdjust="spacingAndGlyphs">Dihydroethidine</text>
<polygon points="46.30,528.00 46.31,526.32 46.33,525.78 46.34,524.47 46.35,522.97 46.37,522.27 46.38,520.56 46.39,519.45 46.40,518.29 46.42,517.31 46.43,515.54 46.44,514.54 46.46,513.31 46.47,512.23 46.48,511.28 46.50,509.53 46.51,508.85 46.52,507.21 46.53,506.09 46.55,504.64 46.56,503.66 46.57,502.91 46.59,501.37 46.60,500.00 46.61,499.08 46.62,497.41 46.63,496.18 46.64,494.95 46.65,494.03 46.65,492.86 46.66,491.80 46.67,489.84 46.68,489.31 46.69,488.26 46.70,486.71 46.71,485.00 46.72,484.04 46.73,482.54 46.74,481.51 46.75,481.03 46.75,479.50 46.76,478.34 46.77,477.26 46.78,476.17 46.79,474.66 46.80,473.45 46.81,472.25 46.82,471.11 46.83,469.79 46.84,468.67 46.85,466.99 46.85,466.23 46.86,464.81 46.87,463.90 46.88,462.03 46.89,460.89 46.90,460.00 47.20,460.00 47.34,458.29 47.48,457.77 47.61,456.66 47.75,455.16 47.89,453.62 48.02,452.82 48.16,451.54 48.30,450.00 48.45,448.81 48.60,447.26 48.75,446.05 48.90,444.92 49.05,443.57 49.20,442.43 49.35,441.39 49.50,440.00 49.64,439.18 49.77,437.05 49.91,436.32 50.05,434.54 50.19,433.37 50.33,432.81 50.46,431.33 50.60,430.00 50.71,429.17 50.83,427.45 50.94,425.76 51.05,424.89 51.16,423.84 51.27,422.94 51.39,421.73 51.50,420.00 51.65,418.73 51.80,417.41 51.95,415.85 52.10,415.14 52.25,413.46 52.40,412.15 52.55,410.77 52.70,410.00 52.84,408.25 52.98,407.68 53.11,405.87 53.25,405.47 53.39,403.34 53.52,402.87 53.66,400.88 53.80,400.00 53.95,398.27 54.10,397.72 54.25,395.99 54.40,395.23 54.55,393.44 54.70,392.05 54.85,391.52 55.00,390.00 55.35,388.84 55.70,387.61 56.05,386.10 56.40,384.50 56.80,385.33 57.20,387.00 57.70,388.63 58.20,390.00 58.55,391.46 58.90,392.46 59.25,394.18 59.60,395.00 59.90,396.00 60.20,397.96 60.50,398.97 60.80,400.00 60.91,400.76 61.02,402.01 61.14,403.90 61.25,405.32 61.36,405.83 61.48,407.31 61.59,408.98 61.70,410.00 61.80,410.92 61.90,412.86 62.00,413.74 62.10,414.56 62.20,416.12 62.30,417.57 62.40,418.69 62.50,420.00 62.65,421.43 62.80,422.14 62.95,424.05 63.10,424.86 63.25,426.39 63.40,427.63 63.55,428.67 63.70,430.00 63.84,431.14 63.98,432.79 64.11,434.19 64.25,435.28 64.39,436.32 64.53,437.29 64.66,438.31 64.80,440.00 64.88,441.72 64.95,442.70 65.03,444.08 65.10,444.83 65.17,446.36 65.25,447.98 65.33,449.08 65.40,450.00 65.48,451.35 65.55,452.31 65.62,453.68 65.70,455.39 65.78,456.13 65.85,457.68 65.92,458.85 66.00,460.00 66.93,459.40 67.87,458.31 68.80,457.00 68.98,458.08 69.16,459.10 69.34,460.66 69.52,462.12 69.70,463.59 69.88,465.12 70.06,466.49 70.24,466.94 70.42,469.03 70.60,470.00 70.81,471.56 71.02,472.87 71.24,473.82 71.45,474.77 71.66,476.60 71.88,477.81 72.09,478.93 72.30,480.00 72.45,481.66 72.60,482.35 72.75,483.34 72.90,485.05 73.05,486.55 73.20,487.20 73.35,489.00 73.50,490.00 73.64,491.68 73.78,492.23 73.91,493.86 74.05,495.18 74.19,496.22 74.32,497.21 74.46,498.50 74.60,500.00 75.17,501.50 75.75,502.79 76.33,503.71 76.90,505.00 77.28,505.75 77.67,507.64 78.05,508.77 78.43,509.40 78.82,510.91 79.20,512.00 79.97,513.73 80.73,515.05 81.50,516.00 82.67,516.77 83.85,517.48 85.03,518.34 86.20,519.00 87.90,519.19 89.60,520.00 90.77,519.03 91.93,518.35 93.10,518.00 94.25,518.70 95.40,518.86 96.55,519.56 97.70,520.00 99.00,519.30 100.37,519.97 101.73,520.85 103.10,521.60 104.18,521.93 105.26,522.50 106.34,524.14 107.42,524.19 108.50,525.00 109.62,525.06 110.73,526.03 111.85,526.64 112.97,526.46 114.08,527.35 115.20,527.70 116.00,528.00" fill="#b0aeb3" stroke="#707070" stroke-width="0.8" stroke-linejoin="round" opacity="1"/>
<polyline points="44.00,528.00 45.30,527.78 46.60,528.00 47.90,527.33 49.20,528.00 50.17,526.35 51.13,526.69 52.10,525.51 53.07,523.98 54.03,523.09 55.00,522.00 55.77,520.50 56.53,520.06 57.30,518.40 58.07,517.96 58.83,516.54 59.60,515.00 59.96,514.20 60.33,513.15 60.69,510.91 61.05,509.35 61.41,508.33 61.77,507.05 62.14,505.67 62.50,505.00 62.69,503.12 62.88,502.58 63.08,501.77 63.27,499.94 63.46,499.38 63.65,498.07 63.84,495.64 64.03,495.14 64.22,493.61 64.42,491.97 64.61,491.89 64.80,490.00 64.99,488.41 65.18,487.59 65.38,486.45 65.57,485.64 65.76,483.99 65.95,482.35 66.14,481.18 66.33,479.52 66.52,479.40 66.72,478.19 66.91,475.86 67.10,475.00 67.24,473.10 67.38,472.16 67.52,471.04 67.67,470.56 67.81,469.32 67.95,467.97 68.09,465.62 68.23,465.40 68.38,464.04 68.52,462.71 68.66,461.93 68.80,460.00 68.88,458.13 68.95,457.00 69.03,456.61 69.10,455.62 69.17,454.00 69.25,452.22 69.33,451.38 69.40,450.00 69.61,449.18 69.82,447.08 70.03,446.21 70.24,444.93 70.45,443.56 70.65,442.88 70.86,441.26 71.07,440.18 71.28,438.86 71.49,438.43 71.70,437.00 72.47,437.32 73.23,439.30 74.00,440.00 74.25,440.82 74.50,441.85 74.75,444.35 75.00,444.61 75.25,446.86 75.50,448.01 75.75,449.29 76.00,450.00 76.49,450.61 76.98,452.15 77.47,452.77 77.96,455.04 78.44,456.03 78.93,456.85 79.42,457.71 79.91,458.66 80.40,460.00 81.04,461.56 81.69,462.19 82.33,463.51 82.98,463.94 83.62,465.17 84.27,466.05 84.91,468.08 85.56,468.96 86.20,470.00 86.71,470.61 87.22,472.74 87.73,473.01 88.24,474.32 88.76,475.07 89.27,476.35 89.78,478.25 90.29,478.66 90.80,480.00 91.64,480.59 92.48,482.11 93.32,482.93 94.16,484.80 95.00,485.30 95.63,485.88 96.27,488.20 96.90,488.03 97.53,490.32 98.17,491.12 98.80,492.00 100.25,492.30 101.70,493.40 103.06,493.77 104.42,493.90 105.78,494.26 107.14,494.58 108.50,495.40 109.24,496.25 109.99,498.18 110.73,499.23 111.48,500.17 112.22,500.06 112.97,501.37 113.71,503.27 114.46,503.14 115.20,504.80 116.16,505.89 117.11,506.05 118.07,507.78 119.03,507.21 119.99,509.09 120.94,509.21 121.90,510.20 122.74,510.71 123.58,511.53 124.41,513.70 125.25,514.29 126.09,514.82 126.92,516.18 127.76,517.86 128.60,518.30 129.73,518.36 130.87,519.30 132.00,519.14 133.13,519.65 134.27,520.93 135.40,521.00 136.52,521.96 137.63,521.91 138.75,522.41 139.87,523.09 140.98,524.49 142.10,525.00 143.10,525.74 144.10,526.18 145.10,526.84 146.10,528.00 147.30,528.00 148.50,528.00 149.71,528.00 150.91,528.00 152.11,527.58 153.31,527.39 154.52,528.00 155.72,527.87 156.92,528.00 158.12,527.38 159.32,528.00 160.53,527.77 161.73,528.00 162.93,528.00 164.13,527.99 165.34,527.32 166.54,528.00 167.74,527.97 168.94,528.00 170.15,527.67 171.35,527.56 172.55,528.00 173.75,527.81 174.95,527.53 176.16,527.82 177.36,528.00 178.56,527.31 179.76,528.00 180.97,527.92 182.17,528.00 183.37,527.47 184.57,528.00 185.78,528.00 186.98,528.00 188.18,527.75 189.38,528.00 190.58,527.83 191.79,528.00 192.99,527.39 194.19,528.00 195.39,528.00 196.60,527.99 197.80,528.00 199.00,528.00" fill="none" stroke="#3ad83a" stroke-width="1.15" stroke-linejoin="round" opacity="1"/>
<polyline points="44.00,528.00 45.45,528.00 46.90,528.30 48.05,527.71 49.20,527.00 50.12,525.23 51.04,525.75 51.96,523.56 52.88,522.49 53.80,522.00 54.38,520.20 54.97,519.27 55.55,519.01 56.13,516.58 56.72,515.52 57.30,515.00 57.59,514.07 57.88,512.01 58.16,510.48 58.45,510.16 58.74,508.87 59.02,507.54 59.31,506.57 59.60,505.00 59.79,503.11 59.98,503.09 60.17,501.60 60.37,499.27 60.56,498.15 60.75,497.49 60.94,496.25 61.13,494.65 61.33,493.15 61.52,492.35 61.71,490.67 61.90,490.00 62.05,488.90 62.20,488.08 62.35,485.69 62.50,485.12 62.65,484.14 62.80,481.96 62.95,481.77 63.10,480.70 63.25,478.57 63.40,477.37 63.55,476.79 63.70,475.00 63.89,473.79 64.08,472.33 64.28,471.96 64.47,470.44 64.66,468.49 64.85,467.08 65.04,465.99 65.23,464.90 65.42,464.52 65.62,462.99 65.81,461.91 66.00,460.00 66.17,459.25 66.33,458.06 66.50,455.54 66.67,455.03 66.83,454.48 67.00,453.19 67.17,450.85 67.33,449.88 67.50,448.96 67.67,447.28 67.83,446.30 68.00,445.00 68.17,443.06 68.33,442.39 68.50,441.26 68.67,439.23 68.83,438.17 69.00,438.25 69.17,436.69 69.33,435.70 69.50,433.96 69.67,432.99 69.83,431.86 70.00,430.00 70.19,429.42 70.38,426.85 70.57,426.63 70.76,424.83 70.94,424.29 71.13,422.44 71.32,421.67 71.51,421.08 71.70,419.20 71.81,420.65 71.93,421.32 72.04,423.00 72.16,424.12 72.27,426.21 72.39,426.40 72.50,428.00 72.71,428.89 72.92,430.64 73.13,430.99 73.34,432.95 73.55,434.73 73.76,435.22 73.97,436.03 74.18,437.55 74.39,438.85 74.60,440.00 74.89,440.69 75.17,441.90 75.46,443.16 75.75,444.67 76.04,446.10 76.33,447.16 76.61,448.34 76.90,450.00 77.19,450.59 77.48,452.57 77.78,454.29 78.07,455.18 78.36,456.36 78.65,457.74 78.94,458.27 79.23,460.34 79.53,461.19 79.82,462.58 80.11,463.93 80.40,465.00 80.83,466.20 81.25,467.20 81.67,468.34 82.10,469.55 82.53,471.27 82.95,472.31 83.38,473.89 83.80,475.00 84.40,475.47 85.00,477.26 85.60,479.33 86.20,480.00 86.77,480.75 87.33,482.42 87.90,483.49 88.47,484.32 89.03,486.61 89.60,487.00 90.95,487.07 92.30,488.24 93.65,487.65 95.00,488.60 95.60,488.96 96.20,491.31 96.80,491.67 97.40,492.12 98.00,493.70 98.60,494.84 99.20,496.37 99.80,496.42 100.40,498.10 101.48,498.20 102.56,499.91 103.64,500.10 104.72,499.71 105.80,500.80 106.47,501.54 107.15,502.56 107.83,504.08 108.50,504.99 109.17,506.36 109.85,507.31 110.53,507.83 111.20,508.80 111.96,510.15 112.71,511.13 113.47,512.13 114.23,512.65 114.99,514.11 115.74,514.96 116.50,515.60 117.40,517.16 118.30,516.80 119.20,518.89 120.10,518.41 121.00,520.53 121.90,521.00 123.24,521.66 124.58,522.04 125.92,523.30 127.26,523.20 128.60,523.60 129.73,523.92 130.87,524.95 132.00,525.55 133.13,525.57 134.27,525.66 135.40,526.30 136.73,526.79 138.07,527.37 139.40,528.00 140.62,528.00 141.83,527.67 143.05,527.83 144.27,528.00 145.48,527.82 146.70,527.72 147.91,528.00 149.13,528.00 150.35,528.00 151.56,527.91 152.78,527.49 154.00,527.69 155.21,527.43 156.43,528.00 157.64,528.00 158.86,527.34 160.08,528.00 161.29,527.72 162.51,528.00 163.73,528.00 164.94,528.00 166.16,527.53 167.38,527.88 168.59,528.00 169.81,527.22 171.02,527.28 172.24,528.00 173.46,528.00 174.67,528.00 175.89,528.00 177.11,528.00 178.32,528.00 179.54,528.00 180.76,528.00 181.97,528.00 183.19,527.82 184.40,527.77 185.62,528.00 186.84,527.76 188.05,528.00 189.27,528.00 190.49,528.00 191.70,527.36 192.92,527.80 194.13,527.84 195.35,528.00 196.57,528.00 197.78,528.00 199.00,528.00" fill="none" stroke="#2a2ad8" stroke-width="1.15" stroke-linejoin="round" opacity="1"/>
<polyline points="44.00,528.00 45.45,528.00 46.90,528.30 48.05,527.63 49.20,527.00 50.12,525.90 51.04,525.20 51.96,524.79 52.88,522.75 53.80,522.00 54.38,520.88 54.97,520.17 55.55,517.97 56.13,517.04 56.72,516.93 57.30,515.00 57.59,514.27 57.88,512.52 58.16,510.63 58.45,510.63 58.74,509.05 59.02,508.01 59.31,507.03 59.60,505.00 59.79,504.37 59.98,502.37 60.17,500.70 60.37,499.66 60.56,498.77 60.75,497.51 60.94,495.75 61.13,494.49 61.33,493.96 61.52,492.67 61.71,491.02 61.90,490.00 62.05,489.54 62.20,487.72 62.35,485.52 62.50,484.86 62.65,484.21 62.80,482.19 62.95,481.56 63.10,479.21 63.25,478.44 63.40,478.05 63.55,476.39 63.70,475.00 63.79,474.02 63.88,472.01 63.98,471.25 64.07,470.09 64.16,468.38 64.25,467.73 64.34,466.30 64.43,465.80 64.53,463.87 64.62,462.36 64.71,460.64 64.80,460.00 64.95,458.20 65.10,457.92 65.25,455.62 65.40,454.36 65.55,453.22 65.70,452.54 65.85,451.77 66.00,450.00 66.21,448.93 66.42,447.99 66.64,445.55 66.85,444.22 67.06,444.18 67.28,442.22 67.49,441.59 67.70,440.00 67.92,438.43 68.13,436.80 68.35,435.63 68.57,434.03 68.78,433.98 69.00,432.00 69.32,430.93 69.64,429.36 69.96,428.32 70.28,427.02 70.60,426.00 71.07,426.62 71.53,429.29 72.00,430.00 73.50,428.50 73.67,429.91 73.83,431.79 74.00,432.24 74.17,433.80 74.33,434.49 74.50,435.44 74.67,438.13 74.83,439.29 75.00,440.00 75.20,440.90 75.40,443.04 75.60,444.11 75.80,444.49 76.00,446.16 76.20,447.94 76.40,448.39 76.60,450.32 76.80,450.39 77.00,452.00 77.31,453.01 77.62,454.71 77.93,455.10 78.24,456.42 78.55,458.51 78.85,459.07 79.16,460.74 79.47,461.04 79.78,462.11 80.09,463.59 80.40,465.00 80.83,465.75 81.25,468.25 81.67,468.42 82.10,470.10 82.53,470.63 82.95,472.55 83.38,473.57 83.80,475.00 84.40,476.10 85.00,476.80 85.60,478.15 86.20,480.00 86.62,481.77 87.05,482.26 87.47,483.34 87.90,484.51 88.33,485.90 88.75,487.08 89.17,488.01 89.60,490.00 90.37,491.22 91.14,491.66 91.91,492.32 92.69,494.16 93.46,494.13 94.23,495.37 95.00,496.70 95.67,498.25 96.35,498.13 97.03,499.65 97.70,501.29 98.38,502.25 99.05,502.23 99.73,503.55 100.40,504.80 101.30,504.26 102.20,502.80 103.10,502.83 104.00,500.73 104.90,501.02 105.80,499.40 106.57,500.36 107.34,500.88 108.11,502.20 108.89,502.64 109.66,504.52 110.43,504.76 111.20,506.10 111.86,507.75 112.53,508.27 113.19,508.93 113.85,509.74 114.51,511.34 115.17,511.72 115.84,513.78 116.50,514.20 117.58,514.14 118.66,515.30 119.74,515.89 120.82,515.99 121.90,516.90 122.86,518.11 123.81,518.26 124.77,519.47 125.73,520.09 126.69,520.45 127.64,521.35 128.60,522.30 129.73,522.09 130.87,522.68 132.00,524.21 133.13,523.81 134.27,524.81 135.40,525.00 136.52,524.82 137.63,526.00 138.75,526.13 139.87,526.80 140.98,526.93 142.10,527.70 143.31,527.01 144.53,527.41 145.74,527.28 146.96,527.13 148.17,528.00 149.39,527.39 150.60,527.59 151.82,528.00 153.03,528.00 154.25,528.00 155.46,528.00 156.68,527.19 157.89,527.43 159.11,527.04 160.32,528.00 161.54,528.00 162.75,527.57 163.97,527.68 165.18,528.00 166.40,528.00 167.61,527.43 168.83,528.00 170.04,527.61 171.26,528.00 172.47,527.35 173.69,527.25 174.90,528.00 176.12,528.00 177.33,528.00 178.55,527.16 179.76,527.16 180.98,527.36 182.19,527.43 183.41,527.60 184.62,527.73 185.84,527.19 187.05,527.63 188.27,528.00 189.48,527.44 190.70,528.00 191.91,528.00 193.13,528.00 194.34,527.58 195.56,527.88 196.77,528.00 197.99,527.75 199.20,528.00" fill="none" stroke="#d82ad8" stroke-width="1.15" stroke-linejoin="round" opacity="1"/>
<polyline points="44.00,528.00 45.25,527.60 46.50,528.00 47.75,528.00 49.00,527.83 50.25,527.63 51.50,528.00 52.79,528.00 54.08,527.97 55.37,527.47 56.66,527.57 57.94,527.41 59.23,527.90 60.52,527.38 61.81,527.89 63.10,527.50 64.38,527.53 65.66,526.84 66.93,527.16 68.21,526.75 69.49,526.86 70.77,526.76 72.04,526.16 73.32,525.84 74.60,526.00 75.64,525.56 76.68,524.34 77.72,523.94 78.76,522.95 79.80,522.00 80.28,521.02 80.77,519.93 81.25,518.60 81.73,517.30 82.22,515.81 82.70,515.00 82.99,513.91 83.28,512.44 83.56,511.26 83.85,510.34 84.14,508.45 84.42,507.71 84.71,505.88 85.00,505.00 85.14,503.91 85.28,502.74 85.42,501.06 85.57,500.04 85.71,499.13 85.85,497.61 85.99,496.29 86.13,494.80 86.28,493.40 86.42,492.39 86.56,491.18 86.70,490.00 86.81,488.51 86.92,487.35 87.04,485.96 87.15,485.17 87.26,483.89 87.38,482.29 87.49,481.04 87.60,480.01 87.71,478.71 87.83,477.85 87.94,476.13 88.05,474.84 88.16,474.06 88.28,472.21 88.39,471.30 88.50,470.00 88.65,468.60 88.80,467.72 88.95,466.25 89.10,465.15 89.25,463.41 89.40,462.55 89.55,461.23 89.70,459.85 89.85,458.83 90.00,457.62 90.15,455.78 90.30,454.66 90.45,453.45 90.60,452.30 90.75,450.83 90.91,449.48 91.06,448.42 91.21,447.12 91.37,446.29 91.52,444.86 91.67,443.36 91.83,442.29 91.98,441.17 92.13,439.86 92.29,438.47 92.44,437.16 92.59,435.88 92.75,435.43 92.90,433.80 93.09,432.72 93.28,430.91 93.47,430.14 93.66,429.07 93.84,427.46 94.03,425.82 94.22,424.85 94.41,423.53 94.60,422.30 94.69,420.81 94.78,419.86 94.88,418.19 94.97,417.68 95.06,416.22 95.15,414.97 95.25,413.98 95.34,412.51 95.43,410.95 95.52,409.71 95.62,408.39 95.71,407.06 95.80,406.20 96.35,408.12 96.90,409.60 97.35,408.57 97.80,406.84 98.25,405.45 98.70,404.40 99.40,405.54 100.10,406.73 100.80,407.82 101.50,408.50 101.95,409.66 102.40,411.58 102.85,413.04 103.30,414.20 104.15,415.29 105.00,416.00 105.13,417.08 105.27,418.19 105.40,419.93 105.53,420.75 105.67,422.01 105.80,423.37 105.93,424.45 106.07,426.04 106.20,427.00 106.32,428.07 106.44,429.19 106.57,430.89 106.69,432.21 106.81,433.64 106.93,434.83 107.06,436.27 107.18,437.58 107.30,438.50 107.47,439.77 107.64,441.04 107.81,442.04 107.98,443.42 108.15,444.91 108.32,445.78 108.49,447.54 108.66,448.39 108.83,449.88 109.00,451.20 109.90,452.98 110.80,454.00 110.97,454.89 111.14,456.07 111.31,457.61 111.48,458.63 111.65,460.28 111.82,460.92 111.99,462.81 112.16,464.04 112.33,465.21 112.50,466.20 112.71,467.35 112.92,468.44 113.12,469.95 113.33,471.04 113.54,472.18 113.75,473.32 113.95,474.60 114.16,475.99 114.37,477.33 114.58,478.60 114.78,479.22 114.99,480.53 115.20,481.90 115.50,483.05 115.80,484.35 116.10,485.38 116.40,486.46 116.70,487.57 117.00,488.96 117.30,490.27 117.60,491.88 117.90,492.70 118.26,494.25 118.63,495.43 118.99,496.73 119.35,497.94 119.72,498.89 120.08,500.26 120.45,500.88 120.81,502.59 121.17,503.75 121.54,504.72 121.90,506.10 122.41,507.34 122.93,508.84 123.44,509.65 123.95,510.97 124.46,511.88 124.97,513.10 125.49,514.72 126.00,515.60 126.76,516.18 127.51,517.27 128.27,518.61 129.03,519.39 129.79,520.05 130.54,521.47 131.30,522.30 132.43,522.86 133.57,523.70 134.70,524.23 135.83,524.99 136.97,525.69 138.10,526.30 139.45,526.64 140.80,526.84 142.15,527.32 143.50,528.00 144.77,528.00 146.04,528.00 147.31,527.69 148.58,528.00 149.85,527.80 151.12,527.68 152.38,528.00 153.65,527.80 154.92,527.99 156.19,528.00 157.46,527.78 158.73,528.00 160.00,528.00" fill="none" stroke="#e0303c" stroke-width="1.15" stroke-linejoin="round" opacity="1"/>
<rect x="208.10" y="384.30" width="8.10" height="7.50" fill="#a8a6aa" stroke="#7a7a7a" stroke-width="0.9" />
<text x="217.60" y="390.43" font-size="6.6" text-anchor="start" font-weight="normal" fill="#555555" textLength="50.2" lengthAdjust="spacingAndGlyphs">Untreated control</text>
<rect x="208.10" y="391.80" width="8.10" height="7.50" fill="#fff" stroke="#8a8a8a" stroke-width="0.9" />
<line x1="208.70" y1="395.55" x2="215.60" y2="395.55" stroke="#2a2ad8" stroke-width="1.6" opacity="0.8"/>
<text x="217.60" y="397.93" font-size="6.6" text-anchor="start" font-weight="normal" fill="#555555" textLength="51.1" lengthAdjust="spacingAndGlyphs">Combination 0.5h</text>
<rect x="208.10" y="399.30" width="8.10" height="7.50" fill="#fff" stroke="#8a8a8a" stroke-width="0.9" />
<line x1="208.70" y1="403.05" x2="215.60" y2="403.05" stroke="#3ad83a" stroke-width="1.6" opacity="0.8"/>
<text x="217.60" y="405.43" font-size="6.6" text-anchor="start" font-weight="normal" fill="#555555" textLength="46.4" lengthAdjust="spacingAndGlyphs">Combination 1h</text>
<rect x="208.10" y="406.80" width="8.10" height="7.50" fill="#fff" stroke="#8a8a8a" stroke-width="0.9" />
<line x1="208.70" y1="410.55" x2="215.60" y2="410.55" stroke="#d82ad8" stroke-width="1.6" opacity="0.8"/>
<text x="217.60" y="412.93" font-size="6.6" text-anchor="start" font-weight="normal" fill="#555555" textLength="46.4" lengthAdjust="spacingAndGlyphs">Combination 2h</text>
<rect x="208.10" y="414.30" width="8.10" height="7.50" fill="#fff" stroke="#8a8a8a" stroke-width="0.9" />
<line x1="208.70" y1="418.05" x2="215.60" y2="418.05" stroke="#e0303c" stroke-width="1.6" opacity="0.8"/>
<text x="217.60" y="420.43" font-size="6.6" text-anchor="start" font-weight="normal" fill="#555555" textLength="43.8" lengthAdjust="spacingAndGlyphs">Positive control</text>
<line x1="276.70" y1="530.50" x2="276.70" y2="387.00" stroke="#4a4a4a" stroke-width="1.25"/>
<polygon points="274.30,387.50 279.10,387.50 276.70,382.50" fill="#111" stroke="none" stroke-width="1" stroke-linejoin="round" opacity="1"/>
<rect x="284.20" y="384.20" width="157.90" height="145.80" fill="none" stroke="#8a8a8a" stroke-width="1.2" />
<line x1="442.10" y1="384.20" x2="442.10" y2="530.00" stroke="#333" stroke-width="1.2"/>
<line x1="284.00" y1="535.50" x2="437.50" y2="535.50" stroke="#5a5a5a" stroke-width="1.3"/>
<polygon points="437.00,533.30 437.00,537.70 441.50,535.50" fill="#111" stroke="none" stroke-width="1" stroke-linejoin="round" opacity="1"/>
<text x="270.90" y="455.40" font-size="10" text-anchor="middle" font-weight="normal" fill="#222" transform="rotate(-90 270.90 455.40)" textLength="30.4" lengthAdjust="spacingAndGlyphs">Events</text>
<text x="366.65" y="547.50" font-size="9.6" text-anchor="middle" font-weight="normal" fill="#222" textLength="69.30000000000001" lengthAdjust="spacingAndGlyphs">Dihydroethidine</text>
<polygon points="287.00,529.00 287.03,527.56 287.07,526.59 287.10,525.43 287.13,523.91 287.17,522.90 287.20,521.49 287.23,520.51 287.27,519.55 287.30,518.16 287.33,517.05 287.37,515.86 287.40,514.27 287.43,513.59 287.47,512.22 287.50,510.64 287.53,509.86 287.57,508.39 287.60,507.05 287.63,506.32 287.67,504.87 287.70,503.79 287.73,502.20 287.77,501.37 287.80,500.00 287.86,498.48 287.93,497.34 287.99,496.17 288.05,494.71 288.11,493.81 288.18,492.33 288.24,491.13 288.30,490.12 288.36,488.71 288.43,487.73 288.49,486.32 288.55,485.22 288.61,483.79 288.68,482.75 288.74,481.47 288.80,480.00 288.93,478.55 289.05,477.65 289.18,476.15 289.30,475.16 289.43,473.86 289.55,472.70 289.68,471.02 289.80,469.92 289.93,468.89 290.05,467.77 290.18,466.38 290.30,464.73 290.43,463.81 290.55,462.26 290.68,461.28 290.80,460.00 290.88,458.93 290.95,457.27 291.03,456.51 291.10,455.11 291.18,453.60 291.25,452.32 291.32,451.22 291.40,450.20 291.48,448.80 291.55,447.27 291.62,445.96 291.70,444.77 291.77,443.93 291.85,442.31 291.93,441.28 292.00,440.00 292.25,438.62 292.50,437.61 292.75,436.18 293.00,434.79 293.25,433.98 293.50,432.52 293.75,431.36 294.00,430.00 294.23,428.93 294.45,427.77 294.68,425.96 294.90,424.91 295.12,423.54 295.35,422.50 295.57,421.47 295.80,420.00 296.01,418.93 296.23,417.22 296.44,416.06 296.65,415.19 296.86,413.86 297.07,412.44 297.29,411.24 297.50,410.00 297.64,408.54 297.78,407.71 297.93,406.19 298.07,405.22 298.21,403.82 298.35,402.25 298.49,401.15 298.63,399.83 298.77,398.99 298.92,397.55 299.06,395.98 299.20,395.00 299.41,393.48 299.62,392.27 299.84,391.01 300.05,389.75 300.26,388.31 300.47,386.96 300.69,385.43 300.90,384.40 301.55,385.75 302.20,387.00 303.50,386.40 303.64,387.53 303.79,388.57 303.93,390.06 304.07,391.61 304.21,392.27 304.36,393.56 304.50,395.00 304.62,396.35 304.73,397.36 304.85,398.61 304.97,400.00 305.08,401.11 305.20,402.54 305.32,403.77 305.43,405.27 305.55,406.55 305.67,407.22 305.78,408.79 305.90,410.00 306.02,411.41 306.15,412.72 306.27,413.91 306.40,415.08 306.52,416.33 306.65,417.42 306.77,418.62 306.90,420.00 307.05,421.43 307.20,422.72 307.35,424.01 307.50,425.11 307.65,426.13 307.80,427.66 307.95,428.89 308.10,430.00 308.21,431.26 308.33,432.58 308.44,433.66 308.55,435.03 308.66,436.19 308.77,437.24 308.89,438.65 309.00,440.00 309.11,441.14 309.23,442.79 309.34,443.74 309.45,444.92 309.56,446.10 309.67,447.34 309.79,448.66 309.90,450.00 310.10,451.03 310.30,452.20 310.50,453.97 310.70,454.97 310.90,456.22 311.10,457.54 311.30,458.63 311.50,460.00 311.75,461.05 312.00,462.24 312.25,463.63 312.50,464.89 312.75,466.39 313.00,467.53 313.25,469.01 313.50,470.00 313.69,471.15 313.88,472.75 314.06,473.80 314.25,474.75 314.44,476.06 314.62,477.55 314.81,479.04 315.00,480.00 315.21,481.16 315.43,482.66 315.64,483.71 315.85,485.22 316.06,485.99 316.27,487.49 316.49,488.99 316.70,490.00 316.82,491.27 316.94,492.65 317.06,493.91 317.18,495.40 317.30,497.00 317.54,498.05 317.77,499.50 318.01,500.39 318.25,501.69 318.49,502.76 318.73,504.19 318.96,505.53 319.20,506.50 319.59,507.74 319.98,508.62 320.37,510.09 320.76,511.38 321.15,512.31 321.54,513.15 321.93,514.74 322.32,515.93 322.71,516.75 323.10,518.00 323.86,518.94 324.62,520.13 325.38,521.50 326.14,522.87 326.90,523.80 328.20,524.55 329.50,525.39 330.80,525.80 332.08,525.94 333.37,526.33 334.65,526.90 335.93,527.16 337.22,527.33 338.50,527.70 339.93,528.13 341.35,528.25 342.77,528.41 344.20,529.00" fill="#b0aeb3" stroke="#707070" stroke-width="0.8" stroke-linejoin="round" opacity="1"/>
<polyline points="286.50,529.00 286.57,527.66 286.63,526.10 286.70,525.30 286.77,523.80 286.83,522.66 286.90,521.48 286.97,519.94 287.03,518.84 287.10,517.21 287.17,516.67 287.23,515.12 287.30,514.19 287.37,512.18 287.43,511.36 287.50,510.00 287.56,508.93 287.62,507.36 287.69,505.92 287.75,504.72 287.81,503.46 287.88,502.71 287.94,500.92 288.00,500.00 288.07,499.00 288.15,497.44 288.23,496.28 288.30,495.07 288.38,493.79 288.45,492.63 288.53,491.33 288.60,490.00 288.73,488.61 288.85,487.69 288.98,486.06 289.10,485.17 289.23,483.96 289.35,482.72 289.48,481.10 289.60,480.00 289.85,478.97 290.10,477.88 290.35,476.21 290.60,474.82 290.85,473.77 291.10,472.85 291.35,470.96 291.60,470.00 291.85,468.36 292.10,467.48 292.35,466.37 292.60,465.22 292.85,463.64 293.10,462.89 293.35,461.03 293.60,460.00 293.69,459.01 293.78,457.27 293.87,456.02 293.96,454.91 294.05,453.65 294.14,452.80 294.23,451.64 294.32,450.15 294.41,449.55 294.50,448.00 294.55,446.56 294.60,445.05 294.65,443.74 294.70,442.86 294.75,441.67 294.80,440.00 295.03,438.48 295.25,437.12 295.48,436.47 295.70,434.79 295.93,434.14 296.15,432.50 296.38,431.36 296.60,430.00 296.78,428.63 296.95,427.74 297.12,426.22 297.30,424.86 297.48,424.07 297.65,422.19 297.82,421.44 298.00,419.65 298.18,418.87 298.35,417.42 298.52,416.54 298.70,415.00 298.81,413.40 298.93,412.55 299.04,411.18 299.15,410.34 299.26,409.11 299.38,407.60 299.49,406.03 299.60,404.80 299.71,403.56 299.82,402.45 299.94,401.04 300.05,399.76 300.16,398.96 300.27,397.61 300.39,396.09 300.50,395.00 300.57,394.11 300.64,392.20 300.71,391.20 300.79,389.58 300.86,388.86 300.93,387.58 301.00,386.00 301.50,384.50 301.83,385.48 302.17,387.03 302.50,388.00 303.50,387.00 303.56,388.56 303.62,389.43 303.68,390.77 303.74,392.19 303.80,393.81 303.86,394.53 303.92,396.25 303.98,397.48 304.04,398.66 304.10,400.00 304.40,401.31 304.70,402.81 305.00,403.52 305.30,405.00 305.40,406.56 305.50,407.39 305.60,408.97 305.70,410.29 305.80,411.00 305.90,412.79 306.00,414.15 306.10,414.84 306.20,415.87 306.30,417.19 306.40,419.13 306.50,420.00 306.63,420.86 306.77,422.83 306.90,423.47 307.03,425.19 307.17,425.93 307.30,427.23 307.43,428.90 307.57,429.67 307.70,431.12 307.83,432.83 307.97,433.92 308.10,435.00 308.33,436.56 308.55,437.88 308.77,438.38 309.00,440.00 309.12,441.04 309.25,442.73 309.38,443.90 309.50,444.63 309.62,446.25 309.75,447.29 309.88,448.69 310.00,450.00 310.23,450.93 310.45,452.12 310.68,454.14 310.90,454.85 311.12,456.55 311.35,457.20 311.57,458.74 311.80,460.00 312.05,460.96 312.30,462.44 312.55,463.49 312.80,465.15 313.05,465.97 313.30,467.69 313.55,468.75 313.80,470.00 313.98,470.94 314.15,472.38 314.32,473.75 314.50,475.33 314.68,476.13 314.85,477.27 315.02,479.12 315.20,480.00 315.39,481.56 315.57,482.69 315.76,483.57 315.95,484.74 316.14,486.06 316.32,487.16 316.51,488.38 316.70,490.00 317.18,491.26 317.65,492.43 318.12,493.80 318.60,495.00 318.75,496.34 318.90,497.51 319.05,499.50 319.20,500.80 319.68,502.04 320.17,503.07 320.65,504.19 321.13,505.42 321.62,506.77 322.10,507.50 322.88,508.76 323.66,509.59 324.44,510.30 325.22,511.19 326.00,512.30 326.96,513.02 327.92,514.24 328.88,514.55 329.84,515.33 330.80,516.20 331.75,517.08 332.70,517.81 333.65,519.45 334.60,519.60 335.55,521.04 336.50,521.90 337.66,522.82 338.82,522.86 339.98,523.73 341.14,524.12 342.30,524.80 343.58,525.08 344.87,525.53 346.15,525.94 347.43,527.01 348.72,527.44 350.00,527.70 351.45,528.35 352.90,527.99 354.35,528.83 355.80,529.00" fill="none" stroke="#1a1a1a" stroke-width="1.15" stroke-linejoin="round" opacity="1"/>
<polyline points="287.00,529.00 287.18,527.45 287.36,526.69 287.55,525.26 287.73,523.61 287.91,523.39 288.09,520.57 288.27,520.48 288.45,519.38 288.64,517.56 288.82,516.42 289.00,515.00 289.22,514.54 289.43,512.08 289.65,511.46 289.87,510.39 290.08,508.56 290.30,507.84 290.52,506.08 290.73,505.04 290.95,503.93 291.17,502.78 291.38,500.97 291.60,500.00 291.75,498.96 291.90,497.57 292.05,495.81 292.20,495.18 292.35,493.37 292.50,493.15 292.65,491.21 292.80,490.00 293.00,489.10 293.20,487.54 293.40,486.21 293.60,484.55 293.80,483.18 294.00,483.18 294.20,481.30 294.40,480.00 294.60,478.79 294.80,477.54 295.00,476.75 295.20,474.58 295.40,473.23 295.60,473.02 295.80,471.19 296.00,470.00 296.19,468.97 296.38,468.02 296.56,466.88 296.75,465.59 296.94,463.02 297.12,462.31 297.31,461.78 297.50,460.00 297.65,459.26 297.80,456.90 297.95,455.70 298.10,454.60 298.25,453.11 298.40,452.27 298.55,451.74 298.70,450.00 299.13,448.83 299.57,447.52 300.00,446.40 301.50,445.29 303.00,445.50 304.65,445.78 306.30,446.40 306.70,448.40 307.10,449.11 307.50,450.00 307.71,451.17 307.92,452.47 308.12,454.23 308.33,455.41 308.54,455.69 308.75,457.79 308.96,458.54 309.17,460.03 309.38,460.83 309.58,462.29 309.79,463.49 310.00,465.00 310.23,466.06 310.47,466.73 310.70,468.27 310.93,470.11 311.17,470.54 311.40,471.99 311.63,474.10 311.87,474.64 312.10,475.97 312.33,477.09 312.57,479.28 312.80,480.00 313.04,480.60 313.27,482.72 313.51,484.32 313.75,484.52 313.99,486.13 314.23,487.97 314.46,488.94 314.70,490.00 315.22,490.99 315.74,491.67 316.26,493.51 316.78,494.59 317.30,496.00 317.86,497.57 318.41,498.13 318.97,499.54 319.53,501.15 320.09,502.64 320.64,503.14 321.20,504.60 322.47,505.05 323.73,505.99 325.00,506.50 326.45,506.95 327.90,505.56 329.35,506.58 330.80,505.60 331.94,505.56 333.08,504.64 334.22,504.72 335.36,503.81 336.50,503.70 337.23,502.05 337.95,502.18 338.68,500.62 339.40,499.89 340.12,498.88 340.85,498.57 341.57,497.37 342.30,496.00 343.08,496.38 343.86,498.43 344.64,499.36 345.42,500.50 346.20,501.70 346.96,503.40 347.72,503.88 348.48,505.14 349.24,506.96 350.00,507.50 351.27,508.37 352.53,509.42 353.80,510.40 354.77,511.37 355.75,512.82 356.73,513.52 357.70,514.20 358.97,515.25 360.23,515.38 361.50,516.20 362.66,516.02 363.82,517.61 364.98,517.97 366.14,518.87 367.30,519.00 368.46,520.01 369.62,519.55 370.78,520.29 371.94,520.64 373.10,521.90 374.20,522.97 375.30,522.38 376.40,522.91 377.50,524.53 378.60,524.79 379.70,524.53 380.80,525.80 381.94,526.47 383.08,526.90 384.22,526.91 385.36,526.61 386.50,527.70 387.95,528.33 389.40,528.22 390.85,528.81 392.30,529.00 393.53,529.00 394.76,529.00 395.99,529.00 397.22,528.43 398.45,528.73 399.68,529.00 400.91,528.21 402.14,529.00 403.37,528.64 404.60,528.62 405.83,528.70 407.06,528.61 408.29,529.00 409.52,529.00 410.75,529.00 411.98,528.87 413.21,528.28 414.44,528.69 415.67,529.00 416.90,529.00 418.13,529.00 419.36,528.61 420.59,528.52 421.82,528.28 423.05,529.00 424.28,528.80 425.51,528.94 426.74,528.98 427.97,529.00 429.20,528.79 430.43,529.00 431.66,528.52 432.89,529.00 434.12,529.00 435.35,528.28 436.58,528.70 437.81,529.00 439.04,528.85 440.27,529.00 441.50,529.00" fill="none" stroke="#3ad83a" stroke-width="1.15" stroke-linejoin="round" opacity="1"/>
<rect x="449.00" y="384.80" width="7.80" height="7.40" fill="#a8a6aa" stroke="#7a7a7a" stroke-width="0.9" />
<text x="459.80" y="390.89" font-size="6.65" text-anchor="start" font-weight="normal" fill="#555555" textLength="51.9" lengthAdjust="spacingAndGlyphs">Untreated control</text>
<rect x="449.00" y="392.20" width="7.80" height="7.40" fill="#fff" stroke="#8a8a8a" stroke-width="0.9" />
<line x1="449.60" y1="395.90" x2="456.20" y2="395.90" stroke="#3ad83a" stroke-width="1.6" opacity="0.8"/>
<text x="459.80" y="398.29" font-size="6.65" text-anchor="start" font-weight="normal" fill="#555555" textLength="51.7" lengthAdjust="spacingAndGlyphs">Combination 1.5h</text>
<rect x="449.00" y="399.60" width="7.80" height="7.40" fill="#fff" stroke="#8a8a8a" stroke-width="0.9" />
<line x1="449.60" y1="403.30" x2="456.20" y2="403.30" stroke="#1a1a1a" stroke-width="1.6" opacity="0.8"/>
<text x="459.80" y="405.69" font-size="6.65" text-anchor="start" font-weight="normal" fill="#555555" textLength="58.0" lengthAdjust="spacingAndGlyphs">Combination + NAC</text>
<text x="40.80" y="335.00" font-size="4.3" text-anchor="end" font-weight="bold" fill="#000" stroke="#000" stroke-width="0.35">0%</text>
<line x1="43.40" y1="333.50" x2="44.40" y2="333.50" stroke="#888" stroke-width="0.6"/>
<text x="40.80" y="322.08" font-size="4.3" text-anchor="end" font-weight="bold" fill="#000" stroke="#000" stroke-width="0.35">10%</text>
<line x1="43.40" y1="320.58" x2="44.40" y2="320.58" stroke="#888" stroke-width="0.6"/>
<text x="40.80" y="309.16" font-size="4.3" text-anchor="end" font-weight="bold" fill="#000" stroke="#000" stroke-width="0.35">20%</text>
<line x1="43.40" y1="307.66" x2="44.40" y2="307.66" stroke="#888" stroke-width="0.6"/>
<text x="40.80" y="296.24" font-size="4.3" text-anchor="end" font-weight="bold" fill="#000" stroke="#000" stroke-width="0.35">30%</text>
<line x1="43.40" y1="294.74" x2="44.40" y2="294.74" stroke="#888" stroke-width="0.6"/>
<text x="40.80" y="283.32" font-size="4.3" text-anchor="end" font-weight="bold" fill="#000" stroke="#000" stroke-width="0.35">40%</text>
<line x1="43.40" y1="281.82" x2="44.40" y2="281.82" stroke="#888" stroke-width="0.6"/>
<text x="40.80" y="270.40" font-size="4.3" text-anchor="end" font-weight="bold" fill="#000" stroke="#000" stroke-width="0.35">50%</text>
<line x1="43.40" y1="268.90" x2="44.40" y2="268.90" stroke="#888" stroke-width="0.6"/>
<text x="40.80" y="257.48" font-size="4.3" text-anchor="end" font-weight="bold" fill="#000" stroke="#000" stroke-width="0.35">60%</text>
<line x1="43.40" y1="255.98" x2="44.40" y2="255.98" stroke="#888" stroke-width="0.6"/>
<text x="40.80" y="244.56" font-size="4.3" text-anchor="end" font-weight="bold" fill="#000" stroke="#000" stroke-width="0.35">70%</text>
<line x1="43.40" y1="243.06" x2="44.40" y2="243.06" stroke="#888" stroke-width="0.6"/>
<text x="40.80" y="231.64" font-size="4.3" text-anchor="end" font-weight="bold" fill="#000" stroke="#000" stroke-width="0.35">80%</text>
<line x1="43.40" y1="230.14" x2="44.40" y2="230.14" stroke="#888" stroke-width="0.6"/>
<text x="40.80" y="218.72" font-size="4.3" text-anchor="end" font-weight="bold" fill="#000" stroke="#000" stroke-width="0.35">90%</text>
<line x1="43.40" y1="217.22" x2="44.40" y2="217.22" stroke="#888" stroke-width="0.6"/>
<text x="40.80" y="205.80" font-size="4.3" text-anchor="end" font-weight="bold" fill="#000" stroke="#000" stroke-width="0.35">100%</text>
<line x1="43.40" y1="204.30" x2="44.40" y2="204.30" stroke="#888" stroke-width="0.6"/>
<line x1="44.40" y1="203.80" x2="44.40" y2="333.50" stroke="#8a8a8a" stroke-width="0.9"/>
<line x1="44.40" y1="333.50" x2="244.50" y2="333.50" stroke="#8a8a8a" stroke-width="0.9"/>
<line x1="94.60" y1="333.50" x2="94.60" y2="335.10" stroke="#8a8a8a" stroke-width="0.7"/>
<line x1="145.00" y1="333.50" x2="145.00" y2="335.10" stroke="#8a8a8a" stroke-width="0.7"/>
<line x1="194.50" y1="333.50" x2="194.50" y2="335.10" stroke="#8a8a8a" stroke-width="0.7"/>
<line x1="244.50" y1="333.50" x2="244.50" y2="335.10" stroke="#8a8a8a" stroke-width="0.7"/>
<rect x="55.20" y="204.30" width="14.20" height="129.20" fill="url(#gd)" stroke="none" stroke-width="1" />
<line x1="55.20" y1="204.70" x2="69.40" y2="204.70" stroke="#222" stroke-width="0.8"/>
<rect x="69.40" y="204.30" width="14.20" height="129.20" fill="url(#gm)" stroke="none" stroke-width="1" />
<line x1="69.40" y1="204.70" x2="83.60" y2="204.70" stroke="#222" stroke-width="0.8"/>
<rect x="105.00" y="203.78" width="14.20" height="129.72" fill="url(#gd)" stroke="none" stroke-width="1" />
<line x1="105.00" y1="204.18" x2="119.20" y2="204.18" stroke="#222" stroke-width="0.8"/>
<line x1="126.50" y1="205.50" x2="126.50" y2="207.53" stroke="#7a7a7a" stroke-width="1.0"/>
<line x1="125.20" y1="205.50" x2="127.80" y2="205.50" stroke="#666" stroke-width="1.0"/>
<rect x="119.20" y="207.53" width="14.20" height="125.97" fill="url(#gm)" stroke="none" stroke-width="1" />
<line x1="119.20" y1="207.93" x2="133.40" y2="207.93" stroke="#222" stroke-width="0.8"/>
<line x1="162.50" y1="262.50" x2="162.50" y2="265.54" stroke="#7a7a7a" stroke-width="1.0"/>
<line x1="161.20" y1="262.50" x2="163.80" y2="262.50" stroke="#666" stroke-width="1.0"/>
<rect x="155.00" y="265.54" width="14.20" height="67.96" fill="url(#gd)" stroke="none" stroke-width="1" />
<line x1="155.00" y1="265.94" x2="169.20" y2="265.94" stroke="#222" stroke-width="0.8"/>
<line x1="176.50" y1="290.50" x2="176.50" y2="290.73" stroke="#7a7a7a" stroke-width="1.0"/>
<line x1="175.20" y1="290.50" x2="177.80" y2="290.50" stroke="#666" stroke-width="1.0"/>
<rect x="169.20" y="290.73" width="14.20" height="42.77" fill="url(#gm)" stroke="none" stroke-width="1" />
<line x1="169.20" y1="291.13" x2="183.40" y2="291.13" stroke="#222" stroke-width="0.8"/>
<line x1="211.50" y1="255.50" x2="211.50" y2="261.15" stroke="#7a7a7a" stroke-width="1.0"/>
<line x1="210.20" y1="255.50" x2="212.80" y2="255.50" stroke="#666" stroke-width="1.0"/>
<rect x="204.50" y="261.15" width="14.20" height="72.35" fill="url(#gd)" stroke="none" stroke-width="1" />
<line x1="204.50" y1="261.55" x2="218.70" y2="261.55" stroke="#222" stroke-width="0.8"/>
<line x1="225.50" y1="284.50" x2="225.50" y2="285.44" stroke="#7a7a7a" stroke-width="1.0"/>
<line x1="224.20" y1="284.50" x2="226.80" y2="284.50" stroke="#666" stroke-width="1.0"/>
<rect x="218.70" y="285.44" width="14.20" height="48.06" fill="url(#gm)" stroke="none" stroke-width="1" />
<line x1="218.70" y1="285.84" x2="232.90" y2="285.84" stroke="#222" stroke-width="0.8"/>
<text x="70.45" y="344.60" font-size="9.8" text-anchor="middle" font-weight="normal" fill="#1a1a1a" textLength="31.299999999999997" lengthAdjust="spacingAndGlyphs">Control</text>
<text x="120.60" y="344.60" font-size="9.8" text-anchor="middle" font-weight="normal" fill="#1a1a1a" textLength="50.400000000000006" lengthAdjust="spacingAndGlyphs">NAC 10mM</text>
<text x="168.15" y="344.60" font-size="9.8" text-anchor="middle" font-weight="normal" fill="#1a1a1a" textLength="31.30000000000001" lengthAdjust="spacingAndGlyphs">Combo</text>
<text x="217.40" y="344.60" font-size="9.8" text-anchor="middle" font-weight="normal" fill="#1a1a1a" textLength="58.0" lengthAdjust="spacingAndGlyphs">Combo+NAC</text>
<rect x="45.30" y="359.30" width="10.50" height="10.10" fill="#0d0d0d" stroke="#000" stroke-width="0.6" />
<text x="61.20" y="367.60" font-size="9.8" text-anchor="start" font-weight="normal" fill="#1a1a1a" textLength="32.8" lengthAdjust="spacingAndGlyphs">4 hours</text>
<rect x="104.90" y="359.70" width="10.40" height="9.30" fill="url(#gm)" stroke="#222" stroke-width="0.8" />
<text x="120.40" y="367.60" font-size="9.8" text-anchor="start" font-weight="normal" fill="#1a1a1a" textLength="32.29999999999998" lengthAdjust="spacingAndGlyphs">8 hours</text>
<text x="10.50" y="267.85" font-size="9.9" text-anchor="middle" font-weight="normal" fill="#1a1a1a" transform="rotate(-90 10.50 267.85)" textLength="120.3" lengthAdjust="spacingAndGlyphs">% Live cells (Ann-/PI- cells)</text>
<text x="22.30" y="267.25" font-size="9.9" text-anchor="middle" font-weight="normal" fill="#1a1a1a" transform="rotate(-90 22.30 267.25)" textLength="137.3" lengthAdjust="spacingAndGlyphs">Normalized to untreated control</text>
<text x="284.00" y="337.60" font-size="4.3" text-anchor="end" font-weight="bold" fill="#000" stroke="#000" stroke-width="0.35">0%</text>
<line x1="287.00" y1="336.10" x2="288.00" y2="336.10" stroke="#888" stroke-width="0.6"/>
<text x="284.00" y="324.67" font-size="4.3" text-anchor="end" font-weight="bold" fill="#000" stroke="#000" stroke-width="0.35">10%</text>
<line x1="287.00" y1="323.17" x2="288.00" y2="323.17" stroke="#888" stroke-width="0.6"/>
<text x="284.00" y="311.74" font-size="4.3" text-anchor="end" font-weight="bold" fill="#000" stroke="#000" stroke-width="0.35">20%</text>
<line x1="287.00" y1="310.24" x2="288.00" y2="310.24" stroke="#888" stroke-width="0.6"/>
<text x="284.00" y="298.81" font-size="4.3" text-anchor="end" font-weight="bold" fill="#000" stroke="#000" stroke-width="0.35">30%</text>
<line x1="287.00" y1="297.31" x2="288.00" y2="297.31" stroke="#888" stroke-width="0.6"/>
<text x="284.00" y="285.88" font-size="4.3" text-anchor="end" font-weight="bold" fill="#000" stroke="#000" stroke-width="0.35">40%</text>
<line x1="287.00" y1="284.38" x2="288.00" y2="284.38" stroke="#888" stroke-width="0.6"/>
<text x="284.00" y="272.95" font-size="4.3" text-anchor="end" font-weight="bold" fill="#000" stroke="#000" stroke-width="0.35">50%</text>
<line x1="287.00" y1="271.45" x2="288.00" y2="271.45" stroke="#888" stroke-width="0.6"/>
<text x="284.00" y="260.02" font-size="4.3" text-anchor="end" font-weight="bold" fill="#000" stroke="#000" stroke-width="0.35">60%</text>
<line x1="287.00" y1="258.52" x2="288.00" y2="258.52" stroke="#888" stroke-width="0.6"/>
<text x="284.00" y="247.09" font-size="4.3" text-anchor="end" font-weight="bold" fill="#000" stroke="#000" stroke-width="0.35">70%</text>
<line x1="287.00" y1="245.59" x2="288.00" y2="245.59" stroke="#888" stroke-width="0.6"/>
<text x="284.00" y="234.16" font-size="4.3" text-anchor="end" font-weight="bold" fill="#000" stroke="#000" stroke-width="0.35">80%</text>
<line x1="287.00" y1="232.66" x2="288.00" y2="232.66" stroke="#888" stroke-width="0.6"/>
<text x="284.00" y="221.23" font-size="4.3" text-anchor="end" font-weight="bold" fill="#000" stroke="#000" stroke-width="0.35">90%</text>
<line x1="287.00" y1="219.73" x2="288.00" y2="219.73" stroke="#888" stroke-width="0.6"/>
<text x="284.00" y="208.30" font-size="4.3" text-anchor="end" font-weight="bold" fill="#000" stroke="#000" stroke-width="0.35">100%</text>
<line x1="287.00" y1="206.80" x2="288.00" y2="206.80" stroke="#888" stroke-width="0.6"/>
<line x1="288.00" y1="206.30" x2="288.00" y2="336.10" stroke="#8a8a8a" stroke-width="0.9"/>
<line x1="288.00" y1="336.10" x2="482.20" y2="336.10" stroke="#8a8a8a" stroke-width="0.9"/>
<line x1="326.90" y1="336.10" x2="326.90" y2="337.70" stroke="#8a8a8a" stroke-width="0.7"/>
<line x1="365.80" y1="336.10" x2="365.80" y2="337.70" stroke="#8a8a8a" stroke-width="0.7"/>
<line x1="404.50" y1="336.10" x2="404.50" y2="337.70" stroke="#8a8a8a" stroke-width="0.7"/>
<line x1="442.60" y1="336.10" x2="442.60" y2="337.70" stroke="#8a8a8a" stroke-width="0.7"/>
<line x1="482.20" y1="336.10" x2="482.20" y2="337.70" stroke="#8a8a8a" stroke-width="0.7"/>
<rect x="294.25" y="206.80" width="8.70" height="129.30" fill="url(#gd)" stroke="none" stroke-width="1" />
<line x1="294.25" y1="207.20" x2="302.95" y2="207.20" stroke="#222" stroke-width="0.8"/>
<rect x="302.95" y="206.80" width="8.70" height="129.30" fill="url(#gm)" stroke="none" stroke-width="1" />
<line x1="302.95" y1="207.20" x2="311.65" y2="207.20" stroke="#222" stroke-width="0.8"/>
<rect x="311.65" y="206.80" width="8.70" height="129.30" fill="url(#gl)" stroke="none" stroke-width="1" />
<line x1="311.65" y1="207.20" x2="320.35" y2="207.20" stroke="#222" stroke-width="0.8"/>
<line x1="337.50" y1="206.50" x2="337.50" y2="208.22" stroke="#7a7a7a" stroke-width="1.0"/>
<line x1="336.20" y1="206.50" x2="338.80" y2="206.50" stroke="#666" stroke-width="1.0"/>
<rect x="333.20" y="208.22" width="8.70" height="127.88" fill="url(#gd)" stroke="none" stroke-width="1" />
<line x1="333.20" y1="208.62" x2="341.90" y2="208.62" stroke="#222" stroke-width="0.8"/>
<rect x="341.90" y="204.08" width="8.70" height="132.02" fill="url(#gm)" stroke="none" stroke-width="1" />
<line x1="341.90" y1="204.48" x2="350.60" y2="204.48" stroke="#222" stroke-width="0.8"/>
<line x1="354.50" y1="205.50" x2="354.50" y2="209.00" stroke="#7a7a7a" stroke-width="1.0"/>
<line x1="353.20" y1="205.50" x2="355.80" y2="205.50" stroke="#666" stroke-width="1.0"/>
<rect x="350.60" y="209.00" width="8.70" height="127.10" fill="url(#gl)" stroke="none" stroke-width="1" />
<line x1="350.60" y1="209.40" x2="359.30" y2="209.40" stroke="#222" stroke-width="0.8"/>
<line x1="376.50" y1="241.50" x2="376.50" y2="247.53" stroke="#7a7a7a" stroke-width="1.0"/>
<line x1="375.20" y1="241.50" x2="377.80" y2="241.50" stroke="#666" stroke-width="1.0"/>
<rect x="372.50" y="247.53" width="8.70" height="88.57" fill="url(#gd)" stroke="none" stroke-width="1" />
<line x1="372.50" y1="247.93" x2="381.20" y2="247.93" stroke="#222" stroke-width="0.8"/>
<line x1="385.50" y1="227.50" x2="385.50" y2="232.01" stroke="#7a7a7a" stroke-width="1.0"/>
<line x1="384.20" y1="227.50" x2="386.80" y2="227.50" stroke="#666" stroke-width="1.0"/>
<rect x="381.20" y="232.01" width="8.70" height="104.09" fill="url(#gm)" stroke="none" stroke-width="1" />
<line x1="381.20" y1="232.41" x2="389.90" y2="232.41" stroke="#222" stroke-width="0.8"/>
<line x1="394.50" y1="229.50" x2="394.50" y2="234.99" stroke="#7a7a7a" stroke-width="1.0"/>
<line x1="393.20" y1="229.50" x2="395.80" y2="229.50" stroke="#666" stroke-width="1.0"/>
<rect x="389.90" y="234.99" width="8.70" height="101.11" fill="url(#gl)" stroke="none" stroke-width="1" />
<line x1="389.90" y1="235.39" x2="398.60" y2="235.39" stroke="#222" stroke-width="0.8"/>
<line x1="415.50" y1="231.50" x2="415.50" y2="244.94" stroke="#7a7a7a" stroke-width="1.0"/>
<line x1="414.20" y1="231.50" x2="416.80" y2="231.50" stroke="#666" stroke-width="1.0"/>
<rect x="411.25" y="244.94" width="8.70" height="91.16" fill="url(#gd)" stroke="none" stroke-width="1" />
<line x1="411.25" y1="245.34" x2="419.95" y2="245.34" stroke="#222" stroke-width="0.8"/>
<line x1="424.50" y1="242.50" x2="424.50" y2="252.96" stroke="#7a7a7a" stroke-width="1.0"/>
<line x1="423.20" y1="242.50" x2="425.80" y2="242.50" stroke="#666" stroke-width="1.0"/>
<rect x="419.95" y="252.96" width="8.70" height="83.14" fill="url(#gm)" stroke="none" stroke-width="1" />
<line x1="419.95" y1="253.36" x2="428.65" y2="253.36" stroke="#222" stroke-width="0.8"/>
<line x1="433.50" y1="251.50" x2="433.50" y2="262.01" stroke="#7a7a7a" stroke-width="1.0"/>
<line x1="432.20" y1="251.50" x2="434.80" y2="251.50" stroke="#666" stroke-width="1.0"/>
<rect x="428.65" y="262.01" width="8.70" height="74.09" fill="url(#gl)" stroke="none" stroke-width="1" />
<line x1="428.65" y1="262.41" x2="437.35" y2="262.41" stroke="#222" stroke-width="0.8"/>
<line x1="454.50" y1="263.50" x2="454.50" y2="276.23" stroke="#7a7a7a" stroke-width="1.0"/>
<line x1="453.20" y1="263.50" x2="455.80" y2="263.50" stroke="#666" stroke-width="1.0"/>
<rect x="450.00" y="276.23" width="8.70" height="59.87" fill="url(#gd)" stroke="none" stroke-width="1" />
<line x1="450.00" y1="276.63" x2="458.70" y2="276.63" stroke="#222" stroke-width="0.8"/>
<line x1="463.50" y1="259.50" x2="463.50" y2="267.96" stroke="#7a7a7a" stroke-width="1.0"/>
<line x1="462.20" y1="259.50" x2="464.80" y2="259.50" stroke="#666" stroke-width="1.0"/>
<rect x="458.70" y="267.96" width="8.70" height="68.14" fill="url(#gm)" stroke="none" stroke-width="1" />
<line x1="458.70" y1="268.36" x2="467.40" y2="268.36" stroke="#222" stroke-width="0.8"/>
<line x1="471.50" y1="256.50" x2="471.50" y2="271.19" stroke="#7a7a7a" stroke-width="1.0"/>
<line x1="470.20" y1="256.50" x2="472.80" y2="256.50" stroke="#666" stroke-width="1.0"/>
<rect x="467.40" y="271.19" width="8.70" height="64.91" fill="url(#gl)" stroke="none" stroke-width="1" />
<line x1="467.40" y1="271.59" x2="476.10" y2="271.59" stroke="#222" stroke-width="0.8"/>
<text x="307.50" y="345.20" font-size="9.8" text-anchor="middle" font-weight="normal" fill="#1a1a1a" textLength="31.200000000000045" lengthAdjust="spacingAndGlyphs">Control</text>
<text x="347.10" y="345.20" font-size="9.8" text-anchor="middle" font-weight="normal" fill="#1a1a1a" textLength="31.80000000000001" lengthAdjust="spacingAndGlyphs">Hercep</text>
<text x="386.45" y="345.20" font-size="9.8" text-anchor="middle" font-weight="normal" fill="#1a1a1a" textLength="21.899999999999977" lengthAdjust="spacingAndGlyphs">Ritux</text>
<text x="424.60" y="345.20" font-size="9.8" text-anchor="middle" font-weight="normal" fill="#1a1a1a" textLength="21.19999999999999" lengthAdjust="spacingAndGlyphs">Milat</text>
<text x="463.00" y="345.20" font-size="9.8" text-anchor="middle" font-weight="normal" fill="#1a1a1a" textLength="32.39999999999998" lengthAdjust="spacingAndGlyphs">Combo</text>
<line x1="448.75" y1="249.50" x2="473.75" y2="249.50" stroke="#555" stroke-width="1.2"/>
<polygon points="462.00,242.00 462.76,243.95 464.85,244.07 463.24,245.40 463.76,247.43 462.00,246.30 460.24,247.43 460.76,245.40 459.15,244.07 461.24,243.95" fill="#111" stroke="none" stroke-width="1" stroke-linejoin="round" opacity="1"/>
<rect x="294.20" y="359.20" width="10.00" height="10.30" fill="#0d0d0d" stroke="#000" stroke-width="0.6" />
<text x="309.90" y="367.90" font-size="9.8" text-anchor="start" font-weight="normal" fill="#1a1a1a" textLength="32.80000000000001" lengthAdjust="spacingAndGlyphs">8 hours</text>
<rect x="359.30" y="359.60" width="9.50" height="9.50" fill="url(#gm)" stroke="#222" stroke-width="0.8" />
<text x="376.90" y="367.90" font-size="9.8" text-anchor="start" font-weight="normal" fill="#1a1a1a" textLength="38.60000000000002" lengthAdjust="spacingAndGlyphs">24 hours</text>
<rect x="429.20" y="359.60" width="9.80" height="9.50" fill="url(#gl)" stroke="#222" stroke-width="0.8" />
<text x="446.80" y="367.90" font-size="9.8" text-anchor="start" font-weight="normal" fill="#1a1a1a" textLength="38.099999999999966" lengthAdjust="spacingAndGlyphs">48 hours</text>
<text x="267.80" y="269.65" font-size="9.9" text-anchor="middle" font-weight="normal" fill="#1a1a1a" transform="rotate(-90 267.80 269.65)" textLength="133.3" lengthAdjust="spacingAndGlyphs">Relative % Intact Mitochondria</text>
<text x="38.90" y="717.25" font-size="4.3" text-anchor="end" font-weight="bold" fill="#000" stroke="#000" stroke-width="0.35">0%</text>
<line x1="41.60" y1="715.75" x2="42.60" y2="715.75" stroke="#888" stroke-width="0.6"/>
<text x="38.90" y="704.25" font-size="4.3" text-anchor="end" font-weight="bold" fill="#000" stroke="#000" stroke-width="0.35">10%</text>
<line x1="41.60" y1="702.75" x2="42.60" y2="702.75" stroke="#888" stroke-width="0.6"/>
<text x="38.90" y="691.25" font-size="4.3" text-anchor="end" font-weight="bold" fill="#000" stroke="#000" stroke-width="0.35">20%</text>
<line x1="41.60" y1="689.75" x2="42.60" y2="689.75" stroke="#888" stroke-width="0.6"/>
<text x="38.90" y="678.25" font-size="4.3" text-anchor="end" font-weight="bold" fill="#000" stroke="#000" stroke-width="0.35">30%</text>
<line x1="41.60" y1="676.75" x2="42.60" y2="676.75" stroke="#888" stroke-width="0.6"/>
<text x="38.90" y="665.25" font-size="4.3" text-anchor="end" font-weight="bold" fill="#000" stroke="#000" stroke-width="0.35">40%</text>
<line x1="41.60" y1="663.75" x2="42.60" y2="663.75" stroke="#888" stroke-width="0.6"/>
<text x="38.90" y="652.25" font-size="4.3" text-anchor="end" font-weight="bold" fill="#000" stroke="#000" stroke-width="0.35">50%</text>
<line x1="41.60" y1="650.75" x2="42.60" y2="650.75" stroke="#888" stroke-width="0.6"/>
<text x="38.90" y="639.25" font-size="4.3" text-anchor="end" font-weight="bold" fill="#000" stroke="#000" stroke-width="0.35">60%</text>
<line x1="41.60" y1="637.75" x2="42.60" y2="637.75" stroke="#888" stroke-width="0.6"/>
<text x="38.90" y="626.25" font-size="4.3" text-anchor="end" font-weight="bold" fill="#000" stroke="#000" stroke-width="0.35">70%</text>
<line x1="41.60" y1="624.75" x2="42.60" y2="624.75" stroke="#888" stroke-width="0.6"/>
<text x="38.90" y="613.25" font-size="4.3" text-anchor="end" font-weight="bold" fill="#000" stroke="#000" stroke-width="0.35">80%</text>
<line x1="41.60" y1="611.75" x2="42.60" y2="611.75" stroke="#888" stroke-width="0.6"/>
<text x="38.90" y="600.25" font-size="4.3" text-anchor="end" font-weight="bold" fill="#000" stroke="#000" stroke-width="0.35">90%</text>
<line x1="41.60" y1="598.75" x2="42.60" y2="598.75" stroke="#888" stroke-width="0.6"/>
<text x="38.90" y="587.25" font-size="4.3" text-anchor="end" font-weight="bold" fill="#000" stroke="#000" stroke-width="0.35">100%</text>
<line x1="41.60" y1="585.75" x2="42.60" y2="585.75" stroke="#888" stroke-width="0.6"/>
<line x1="42.60" y1="585.25" x2="42.60" y2="715.75" stroke="#8a8a8a" stroke-width="0.9"/>
<line x1="42.60" y1="715.75" x2="243.75" y2="715.75" stroke="#8a8a8a" stroke-width="0.9"/>
<line x1="92.60" y1="715.75" x2="92.60" y2="717.35" stroke="#8a8a8a" stroke-width="0.7"/>
<line x1="142.50" y1="715.75" x2="142.50" y2="717.35" stroke="#8a8a8a" stroke-width="0.7"/>
<line x1="192.50" y1="715.75" x2="192.50" y2="717.35" stroke="#8a8a8a" stroke-width="0.7"/>
<line x1="243.75" y1="715.75" x2="243.75" y2="717.35" stroke="#8a8a8a" stroke-width="0.7"/>
<rect x="53.00" y="585.75" width="14.40" height="130.00" fill="url(#gd)" stroke="none" stroke-width="1" />
<line x1="53.00" y1="586.15" x2="67.40" y2="586.15" stroke="#222" stroke-width="0.8"/>
<rect x="67.40" y="585.75" width="14.40" height="130.00" fill="url(#gm)" stroke="none" stroke-width="1" />
<line x1="67.40" y1="586.15" x2="81.80" y2="586.15" stroke="#222" stroke-width="0.8"/>
<line x1="110.50" y1="588.50" x2="110.50" y2="589.00" stroke="#7a7a7a" stroke-width="1.0"/>
<line x1="109.20" y1="588.50" x2="111.80" y2="588.50" stroke="#666" stroke-width="1.0"/>
<rect x="103.75" y="589.00" width="14.40" height="126.75" fill="url(#gd)" stroke="none" stroke-width="1" />
<line x1="103.75" y1="589.40" x2="118.15" y2="589.40" stroke="#222" stroke-width="0.8"/>
<line x1="125.50" y1="588.50" x2="125.50" y2="588.87" stroke="#7a7a7a" stroke-width="1.0"/>
<line x1="124.20" y1="588.50" x2="126.80" y2="588.50" stroke="#666" stroke-width="1.0"/>
<rect x="118.15" y="588.87" width="14.40" height="126.88" fill="url(#gm)" stroke="none" stroke-width="1" />
<line x1="118.15" y1="589.27" x2="132.55" y2="589.27" stroke="#222" stroke-width="0.8"/>
<line x1="160.50" y1="685.50" x2="160.50" y2="686.24" stroke="#7a7a7a" stroke-width="1.0"/>
<line x1="159.20" y1="685.50" x2="161.80" y2="685.50" stroke="#666" stroke-width="1.0"/>
<rect x="153.75" y="686.24" width="14.40" height="29.51" fill="url(#gd)" stroke="none" stroke-width="1" />
<line x1="153.75" y1="686.64" x2="168.15" y2="686.64" stroke="#222" stroke-width="0.8"/>
<line x1="175.50" y1="690.50" x2="175.50" y2="690.79" stroke="#7a7a7a" stroke-width="1.0"/>
<line x1="174.20" y1="690.50" x2="176.80" y2="690.50" stroke="#666" stroke-width="1.0"/>
<rect x="168.15" y="690.79" width="14.40" height="24.96" fill="url(#gm)" stroke="none" stroke-width="1" />
<line x1="168.15" y1="691.19" x2="182.55" y2="691.19" stroke="#222" stroke-width="0.8"/>
<line x1="210.50" y1="659.50" x2="210.50" y2="662.06" stroke="#7a7a7a" stroke-width="1.0"/>
<line x1="209.20" y1="659.50" x2="211.80" y2="659.50" stroke="#666" stroke-width="1.0"/>
<rect x="203.75" y="662.06" width="14.40" height="53.69" fill="url(#gd)" stroke="none" stroke-width="1" />
<line x1="203.75" y1="662.46" x2="218.15" y2="662.46" stroke="#222" stroke-width="0.8"/>
<line x1="225.50" y1="649.50" x2="225.50" y2="656.99" stroke="#7a7a7a" stroke-width="1.0"/>
<line x1="224.20" y1="649.50" x2="226.80" y2="649.50" stroke="#666" stroke-width="1.0"/>
<rect x="218.15" y="656.99" width="14.40" height="58.76" fill="url(#gm)" stroke="none" stroke-width="1" />
<line x1="218.15" y1="657.39" x2="232.55" y2="657.39" stroke="#222" stroke-width="0.8"/>
<text x="67.55" y="725.80" font-size="9.8" text-anchor="middle" font-weight="normal" fill="#1a1a1a" textLength="31.700000000000003" lengthAdjust="spacingAndGlyphs">Control</text>
<text x="119.75" y="725.80" font-size="9.8" text-anchor="middle" font-weight="normal" fill="#1a1a1a" textLength="50.5" lengthAdjust="spacingAndGlyphs">NAC 10mM</text>
<text x="167.35" y="725.80" font-size="9.8" text-anchor="middle" font-weight="normal" fill="#1a1a1a" textLength="31.30000000000001" lengthAdjust="spacingAndGlyphs">Combo</text>
<text x="217.00" y="725.80" font-size="9.8" text-anchor="middle" font-weight="normal" fill="#1a1a1a" textLength="58.0" lengthAdjust="spacingAndGlyphs">Combo+NAC</text>
<line x1="204.50" y1="645.50" x2="232.50" y2="645.50" stroke="#555" stroke-width="1.2"/>
<polygon points="219.25,637.50 220.01,639.45 222.10,639.57 220.49,640.90 221.01,642.93 219.25,641.80 217.49,642.93 218.01,640.90 216.40,639.57 218.49,639.45" fill="#111" stroke="none" stroke-width="1" stroke-linejoin="round" opacity="1"/>
<rect x="44.40" y="740.00" width="10.10" height="10.00" fill="#0d0d0d" stroke="#000" stroke-width="0.6" />
<text x="60.80" y="748.40" font-size="9.8" text-anchor="start" font-weight="normal" fill="#1a1a1a" textLength="32.10000000000001" lengthAdjust="spacingAndGlyphs">4 hours</text>
<rect x="104.60" y="740.40" width="10.10" height="9.20" fill="url(#gm)" stroke="#222" stroke-width="0.8" />
<text x="120.40" y="748.40" font-size="9.8" text-anchor="start" font-weight="normal" fill="#1a1a1a" textLength="32.19999999999999" lengthAdjust="spacingAndGlyphs">8 hours</text>
<text x="10.00" y="648.30" font-size="9.9" text-anchor="middle" font-weight="normal" fill="#1a1a1a" transform="rotate(-90 10.00 648.30)" textLength="120.0" lengthAdjust="spacingAndGlyphs">% Live cells (Ann-/PI- cells)</text>
<text x="21.50" y="648.00" font-size="9.9" text-anchor="middle" font-weight="normal" fill="#1a1a1a" transform="rotate(-90 21.50 648.00)" textLength="137.5" lengthAdjust="spacingAndGlyphs">Normalized to untreated control</text>
<text x="287.70" y="719.90" font-size="4.3" text-anchor="end" font-weight="bold" fill="#000" stroke="#000" stroke-width="0.35">0%</text>
<line x1="290.30" y1="718.40" x2="291.30" y2="718.40" stroke="#888" stroke-width="0.6"/>
<text x="287.70" y="707.16" font-size="4.3" text-anchor="end" font-weight="bold" fill="#000" stroke="#000" stroke-width="0.35">10%</text>
<line x1="290.30" y1="705.66" x2="291.30" y2="705.66" stroke="#888" stroke-width="0.6"/>
<text x="287.70" y="694.42" font-size="4.3" text-anchor="end" font-weight="bold" fill="#000" stroke="#000" stroke-width="0.35">20%</text>
<line x1="290.30" y1="692.92" x2="291.30" y2="692.92" stroke="#888" stroke-width="0.6"/>
<text x="287.70" y="681.68" font-size="4.3" text-anchor="end" font-weight="bold" fill="#000" stroke="#000" stroke-width="0.35">30%</text>
<line x1="290.30" y1="680.18" x2="291.30" y2="680.18" stroke="#888" stroke-width="0.6"/>
<text x="287.70" y="668.94" font-size="4.3" text-anchor="end" font-weight="bold" fill="#000" stroke="#000" stroke-width="0.35">40%</text>
<line x1="290.30" y1="667.44" x2="291.30" y2="667.44" stroke="#888" stroke-width="0.6"/>
<text x="287.70" y="656.20" font-size="4.3" text-anchor="end" font-weight="bold" fill="#000" stroke="#000" stroke-width="0.35">50%</text>
<line x1="290.30" y1="654.70" x2="291.30" y2="654.70" stroke="#888" stroke-width="0.6"/>
<text x="287.70" y="643.46" font-size="4.3" text-anchor="end" font-weight="bold" fill="#000" stroke="#000" stroke-width="0.35">60%</text>
<line x1="290.30" y1="641.96" x2="291.30" y2="641.96" stroke="#888" stroke-width="0.6"/>
<text x="287.70" y="630.72" font-size="4.3" text-anchor="end" font-weight="bold" fill="#000" stroke="#000" stroke-width="0.35">70%</text>
<line x1="290.30" y1="629.22" x2="291.30" y2="629.22" stroke="#888" stroke-width="0.6"/>
<text x="287.70" y="617.98" font-size="4.3" text-anchor="end" font-weight="bold" fill="#000" stroke="#000" stroke-width="0.35">80%</text>
<line x1="290.30" y1="616.48" x2="291.30" y2="616.48" stroke="#888" stroke-width="0.6"/>
<text x="287.70" y="605.24" font-size="4.3" text-anchor="end" font-weight="bold" fill="#000" stroke="#000" stroke-width="0.35">90%</text>
<line x1="290.30" y1="603.74" x2="291.30" y2="603.74" stroke="#888" stroke-width="0.6"/>
<text x="287.70" y="592.50" font-size="4.3" text-anchor="end" font-weight="bold" fill="#000" stroke="#000" stroke-width="0.35">100%</text>
<line x1="290.30" y1="591.00" x2="291.30" y2="591.00" stroke="#888" stroke-width="0.6"/>
<line x1="291.30" y1="590.50" x2="291.30" y2="718.40" stroke="#8a8a8a" stroke-width="0.9"/>
<line x1="291.30" y1="718.40" x2="489.10" y2="718.40" stroke="#8a8a8a" stroke-width="0.9"/>
<line x1="330.80" y1="718.40" x2="330.80" y2="720.00" stroke="#8a8a8a" stroke-width="0.7"/>
<line x1="370.30" y1="718.40" x2="370.30" y2="720.00" stroke="#8a8a8a" stroke-width="0.7"/>
<line x1="409.80" y1="718.40" x2="409.80" y2="720.00" stroke="#8a8a8a" stroke-width="0.7"/>
<line x1="449.60" y1="718.40" x2="449.60" y2="720.00" stroke="#8a8a8a" stroke-width="0.7"/>
<line x1="489.10" y1="718.40" x2="489.10" y2="720.00" stroke="#8a8a8a" stroke-width="0.7"/>
<rect x="298.00" y="591.00" width="8.75" height="127.40" fill="url(#gd)" stroke="none" stroke-width="1" />
<line x1="298.00" y1="591.40" x2="306.75" y2="591.40" stroke="#222" stroke-width="0.8"/>
<rect x="306.75" y="591.00" width="8.75" height="127.40" fill="url(#gm)" stroke="none" stroke-width="1" />
<line x1="306.75" y1="591.40" x2="315.50" y2="591.40" stroke="#222" stroke-width="0.8"/>
<rect x="315.50" y="591.00" width="8.75" height="127.40" fill="url(#gl)" stroke="none" stroke-width="1" />
<line x1="315.50" y1="591.40" x2="324.25" y2="591.40" stroke="#222" stroke-width="0.8"/>
<rect x="337.00" y="589.98" width="8.75" height="128.42" fill="url(#gd)" stroke="none" stroke-width="1" />
<line x1="337.00" y1="590.38" x2="345.75" y2="590.38" stroke="#222" stroke-width="0.8"/>
<line x1="350.50" y1="590.50" x2="350.50" y2="599.28" stroke="#7a7a7a" stroke-width="1.0"/>
<line x1="349.20" y1="590.50" x2="351.80" y2="590.50" stroke="#666" stroke-width="1.0"/>
<rect x="345.75" y="599.28" width="8.75" height="119.12" fill="url(#gm)" stroke="none" stroke-width="1" />
<line x1="345.75" y1="599.68" x2="354.50" y2="599.68" stroke="#222" stroke-width="0.8"/>
<line x1="358.50" y1="591.50" x2="358.50" y2="592.02" stroke="#7a7a7a" stroke-width="1.0"/>
<line x1="357.20" y1="591.50" x2="359.80" y2="591.50" stroke="#666" stroke-width="1.0"/>
<rect x="354.50" y="592.02" width="8.75" height="126.38" fill="url(#gl)" stroke="none" stroke-width="1" />
<line x1="354.50" y1="592.42" x2="363.25" y2="592.42" stroke="#222" stroke-width="0.8"/>
<line x1="381.50" y1="634.50" x2="381.50" y2="646.29" stroke="#7a7a7a" stroke-width="1.0"/>
<line x1="380.20" y1="634.50" x2="382.80" y2="634.50" stroke="#666" stroke-width="1.0"/>
<rect x="377.00" y="646.29" width="8.75" height="72.11" fill="url(#gd)" stroke="none" stroke-width="1" />
<line x1="377.00" y1="646.69" x2="385.75" y2="646.69" stroke="#222" stroke-width="0.8"/>
<line x1="390.50" y1="631.50" x2="390.50" y2="640.05" stroke="#7a7a7a" stroke-width="1.0"/>
<line x1="389.20" y1="631.50" x2="391.80" y2="631.50" stroke="#666" stroke-width="1.0"/>
<rect x="385.75" y="640.05" width="8.75" height="78.35" fill="url(#gm)" stroke="none" stroke-width="1" />
<line x1="385.75" y1="640.45" x2="394.50" y2="640.45" stroke="#222" stroke-width="0.8"/>
<line x1="398.50" y1="619.50" x2="398.50" y2="629.98" stroke="#7a7a7a" stroke-width="1.0"/>
<line x1="397.20" y1="619.50" x2="399.80" y2="619.50" stroke="#666" stroke-width="1.0"/>
<rect x="394.50" y="629.98" width="8.75" height="88.42" fill="url(#gl)" stroke="none" stroke-width="1" />
<line x1="394.50" y1="630.38" x2="403.25" y2="630.38" stroke="#222" stroke-width="0.8"/>
<line x1="420.50" y1="671.50" x2="420.50" y2="674.45" stroke="#7a7a7a" stroke-width="1.0"/>
<line x1="419.20" y1="671.50" x2="421.80" y2="671.50" stroke="#666" stroke-width="1.0"/>
<rect x="416.25" y="674.45" width="8.75" height="43.95" fill="url(#gd)" stroke="none" stroke-width="1" />
<line x1="416.25" y1="674.85" x2="425.00" y2="674.85" stroke="#222" stroke-width="0.8"/>
<line x1="429.50" y1="667.50" x2="429.50" y2="674.96" stroke="#7a7a7a" stroke-width="1.0"/>
<line x1="428.20" y1="667.50" x2="430.80" y2="667.50" stroke="#666" stroke-width="1.0"/>
<rect x="425.00" y="674.96" width="8.75" height="43.44" fill="url(#gm)" stroke="none" stroke-width="1" />
<line x1="425.00" y1="675.36" x2="433.75" y2="675.36" stroke="#222" stroke-width="0.8"/>
<line x1="438.50" y1="684.50" x2="438.50" y2="692.54" stroke="#7a7a7a" stroke-width="1.0"/>
<line x1="437.20" y1="684.50" x2="439.80" y2="684.50" stroke="#666" stroke-width="1.0"/>
<rect x="433.75" y="692.54" width="8.75" height="25.86" fill="url(#gl)" stroke="none" stroke-width="1" />
<line x1="433.75" y1="692.94" x2="442.50" y2="692.94" stroke="#222" stroke-width="0.8"/>
<line x1="460.50" y1="686.50" x2="460.50" y2="687.95" stroke="#7a7a7a" stroke-width="1.0"/>
<line x1="459.20" y1="686.50" x2="461.80" y2="686.50" stroke="#666" stroke-width="1.0"/>
<rect x="456.25" y="687.95" width="8.75" height="30.45" fill="url(#gd)" stroke="none" stroke-width="1" />
<line x1="456.25" y1="688.35" x2="465.00" y2="688.35" stroke="#222" stroke-width="0.8"/>
<line x1="469.50" y1="680.50" x2="469.50" y2="687.95" stroke="#7a7a7a" stroke-width="1.0"/>
<line x1="468.20" y1="680.50" x2="470.80" y2="680.50" stroke="#666" stroke-width="1.0"/>
<rect x="465.00" y="687.95" width="8.75" height="30.45" fill="url(#gm)" stroke="none" stroke-width="1" />
<line x1="465.00" y1="688.35" x2="473.75" y2="688.35" stroke="#222" stroke-width="0.8"/>
<line x1="478.50" y1="700.50" x2="478.50" y2="701.20" stroke="#7a7a7a" stroke-width="1.0"/>
<line x1="477.20" y1="700.50" x2="479.80" y2="700.50" stroke="#666" stroke-width="1.0"/>
<rect x="473.75" y="701.20" width="8.75" height="17.20" fill="url(#gl)" stroke="none" stroke-width="1" />
<line x1="473.75" y1="701.60" x2="482.50" y2="701.60" stroke="#222" stroke-width="0.8"/>
<text x="309.10" y="725.10" font-size="9.8" text-anchor="middle" font-weight="normal" fill="#1a1a1a" textLength="32.19999999999999" lengthAdjust="spacingAndGlyphs">Control</text>
<text x="350.55" y="725.10" font-size="9.8" text-anchor="middle" font-weight="normal" fill="#1a1a1a" textLength="31.69999999999999" lengthAdjust="spacingAndGlyphs">Hercep</text>
<text x="389.00" y="725.10" font-size="9.8" text-anchor="middle" font-weight="normal" fill="#1a1a1a" textLength="21.799999999999955" lengthAdjust="spacingAndGlyphs">Ritux</text>
<text x="428.60" y="725.10" font-size="9.8" text-anchor="middle" font-weight="normal" fill="#1a1a1a" textLength="21.599999999999966" lengthAdjust="spacingAndGlyphs">Milat</text>
<text x="468.70" y="725.10" font-size="9.8" text-anchor="middle" font-weight="normal" fill="#1a1a1a" textLength="32.39999999999998" lengthAdjust="spacingAndGlyphs">Combo</text>
<line x1="457.50" y1="675.50" x2="483.75" y2="675.50" stroke="#555" stroke-width="1.2"/>
<polygon points="470.00,667.00 470.76,668.95 472.85,669.07 471.24,670.40 471.76,672.43 470.00,671.30 468.24,672.43 468.76,670.40 467.15,669.07 469.24,668.95" fill="#111" stroke="none" stroke-width="1" stroke-linejoin="round" opacity="1"/>
<rect x="293.90" y="740.60" width="10.60" height="10.40" fill="#0d0d0d" stroke="#000" stroke-width="0.6" />
<text x="310.00" y="748.40" font-size="9.8" text-anchor="start" font-weight="normal" fill="#1a1a1a" textLength="32.10000000000002" lengthAdjust="spacingAndGlyphs">8 hours</text>
<rect x="359.40" y="741.00" width="9.40" height="9.60" fill="url(#gm)" stroke="#222" stroke-width="0.8" />
<text x="377.00" y="748.40" font-size="9.8" text-anchor="start" font-weight="normal" fill="#1a1a1a" textLength="38.10000000000002" lengthAdjust="spacingAndGlyphs">24 hours</text>
<rect x="429.20" y="741.00" width="9.80" height="9.60" fill="url(#gl)" stroke="#222" stroke-width="0.8" />
<text x="446.80" y="748.40" font-size="9.8" text-anchor="start" font-weight="normal" fill="#1a1a1a" textLength="38.099999999999966" lengthAdjust="spacingAndGlyphs">48 hours</text>
<text x="272.50" y="650.50" font-size="9.9" text-anchor="middle" font-weight="normal" fill="#1a1a1a" transform="rotate(-90 272.50 650.50)" textLength="133.4" lengthAdjust="spacingAndGlyphs">Relative % Intact Mitochondria</text>
</svg>
</body></html>
